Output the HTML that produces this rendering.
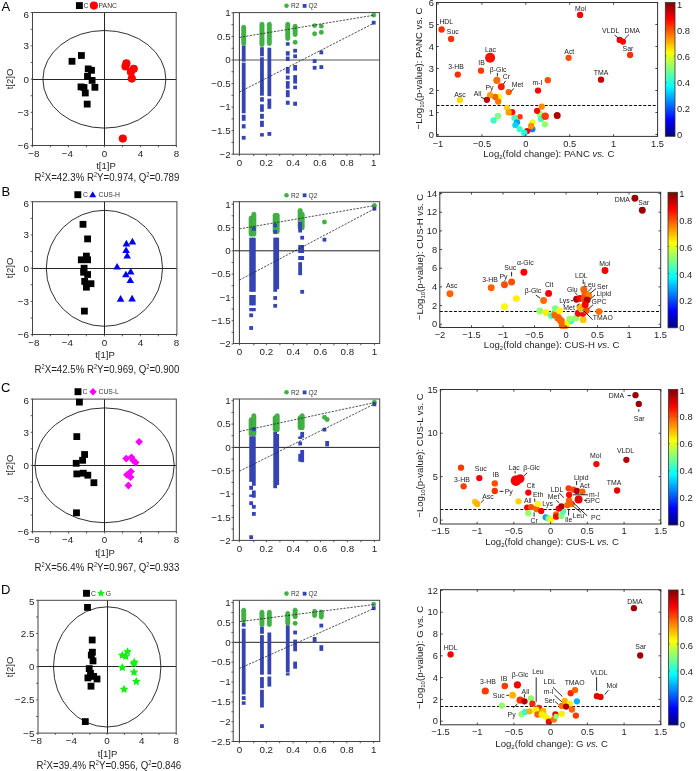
<!DOCTYPE html><html><head><meta charset="utf-8"><style>html,body{margin:0;padding:0;background:#fff;}svg{display:block;will-change:transform;}</style></head><body>
<svg width="696" height="771" viewBox="0 0 696 771" font-family='"Liberation Sans", sans-serif'>
<rect x="0" y="0" width="696" height="771" fill="#fff" />
<text x="1.5" y="11.3" font-size="13" text-anchor="start" fill="#000" >A</text>
<text x="1.5" y="195.8" font-size="13" text-anchor="start" fill="#000" >B</text>
<text x="1" y="392.2" font-size="13" text-anchor="start" fill="#000" >C</text>
<text x="1" y="594.2" font-size="13" text-anchor="start" fill="#000" >D</text>
<line x1="104.5" y1="12.5" x2="104.5" y2="145.5" stroke="#262626" stroke-width="1" />
<line x1="32.5" y1="79.5" x2="176.2" y2="79.5" stroke="#262626" stroke-width="1" />
<ellipse cx="104.4" cy="79.3" rx="61.5" ry="48.8" fill="none" stroke="#262626" stroke-width="0.95"/>
<rect x="32.5" y="12.5" width="143.7" height="133" fill="none" stroke="#444" stroke-width="1"/>
<line x1="30.7" y1="12.62" x2="32.5" y2="12.62" stroke="#444" stroke-width="0.9" />
<line x1="30.7" y1="29.24" x2="32.5" y2="29.24" stroke="#444" stroke-width="0.9" />
<line x1="30.7" y1="45.86" x2="32.5" y2="45.86" stroke="#444" stroke-width="0.9" />
<line x1="30.7" y1="62.48" x2="32.5" y2="62.48" stroke="#444" stroke-width="0.9" />
<line x1="30.7" y1="79.1" x2="32.5" y2="79.1" stroke="#444" stroke-width="0.9" />
<line x1="30.7" y1="95.72" x2="32.5" y2="95.72" stroke="#444" stroke-width="0.9" />
<line x1="30.7" y1="112.34" x2="32.5" y2="112.34" stroke="#444" stroke-width="0.9" />
<line x1="30.7" y1="128.96" x2="32.5" y2="128.96" stroke="#444" stroke-width="0.9" />
<line x1="30.7" y1="145.58" x2="32.5" y2="145.58" stroke="#444" stroke-width="0.9" />
<text x="28.9" y="17.52" font-size="9.8" text-anchor="end" fill="#1e1e1e" >6</text>
<text x="28.9" y="49.26" font-size="9.8" text-anchor="end" fill="#1e1e1e" >3</text>
<text x="28.9" y="82.5" font-size="9.8" text-anchor="end" fill="#1e1e1e" >0</text>
<text x="28.9" y="115.74" font-size="9.8" text-anchor="end" fill="#1e1e1e" >−3</text>
<text x="28.9" y="148.98" font-size="9.8" text-anchor="end" fill="#1e1e1e" >−6</text>
<line x1="32.4" y1="145.5" x2="32.4" y2="147.3" stroke="#444" stroke-width="0.9" />
<line x1="50.4" y1="145.5" x2="50.4" y2="147.3" stroke="#444" stroke-width="0.9" />
<line x1="68.4" y1="145.5" x2="68.4" y2="147.3" stroke="#444" stroke-width="0.9" />
<line x1="86.4" y1="145.5" x2="86.4" y2="147.3" stroke="#444" stroke-width="0.9" />
<line x1="104.4" y1="145.5" x2="104.4" y2="147.3" stroke="#444" stroke-width="0.9" />
<line x1="122.4" y1="145.5" x2="122.4" y2="147.3" stroke="#444" stroke-width="0.9" />
<line x1="140.4" y1="145.5" x2="140.4" y2="147.3" stroke="#444" stroke-width="0.9" />
<line x1="158.4" y1="145.5" x2="158.4" y2="147.3" stroke="#444" stroke-width="0.9" />
<line x1="176.4" y1="145.5" x2="176.4" y2="147.3" stroke="#444" stroke-width="0.9" />
<text x="33.9" y="156.8" font-size="9.8" text-anchor="middle" fill="#1e1e1e" >−8</text>
<text x="67.3" y="156.8" font-size="9.8" text-anchor="middle" fill="#1e1e1e" >−4</text>
<text x="104.4" y="156.8" font-size="9.8" text-anchor="middle" fill="#1e1e1e" >0</text>
<text x="140.4" y="156.8" font-size="9.8" text-anchor="middle" fill="#1e1e1e" >4</text>
<text x="176.4" y="156.8" font-size="9.8" text-anchor="middle" fill="#1e1e1e" >8</text>
<rect x="78" y="52.1" width="6.8" height="6.8" fill="#000" />
<rect x="68.6" y="57.9" width="6.8" height="6.8" fill="#000" />
<rect x="84.8" y="65.5" width="6.8" height="6.8" fill="#000" />
<rect x="88.1" y="66.9" width="6.8" height="6.8" fill="#000" />
<rect x="84.1" y="73" width="6.8" height="6.8" fill="#000" />
<rect x="88.7" y="77" width="6.8" height="6.8" fill="#000" />
<rect x="91.5" y="83.9" width="6.8" height="6.8" fill="#000" />
<rect x="77.6" y="83.5" width="6.8" height="6.8" fill="#000" />
<rect x="80.6" y="84.1" width="6.8" height="6.8" fill="#000" />
<rect x="81.9" y="89.6" width="6.8" height="6.8" fill="#000" />
<rect x="83.8" y="100.7" width="6.8" height="6.8" fill="#000" />
<circle cx="126.4" cy="63.3" r="4.1" fill="#ff0000" />
<circle cx="125.5" cy="66.4" r="4.1" fill="#ff0000" />
<circle cx="133.8" cy="68.8" r="4.1" fill="#ff0000" />
<circle cx="130.9" cy="71.9" r="4.1" fill="#ff0000" />
<circle cx="131.8" cy="78.6" r="4.1" fill="#ff0000" />
<circle cx="122.8" cy="138.6" r="4.1" fill="#ff0000" />
<rect x="75.95" y="2.15" width="6.9" height="6.9" fill="#000" />
<text x="83.6" y="8.1" font-size="6.8" text-anchor="start" fill="#333" >C</text>
<circle cx="93.9" cy="5.6" r="4.1" fill="#ff0000" />
<text x="98.6" y="8.1" font-size="6.8" text-anchor="start" fill="#333" >PANC</text>
<text x="106" y="169" font-size="9.5" text-anchor="middle" fill="#1e1e1e" >t[1]P</text>
<text x="0" y="0" font-size="9.5" text-anchor="middle" fill="#1e1e1e" transform="translate(12.6,79) rotate(-90)">t[2]O</text>
<text x="0" y="0" transform="translate(34.6,180.6) scale(1,1.13)" font-size="9.7" fill="#1e1e1e">R<tspan font-size="5.6" dy="-3.6">2</tspan><tspan dy="3.6">X=42.3% R</tspan><tspan font-size="5.6" dy="-3.6">2</tspan><tspan dy="3.6">Y=0.974, Q</tspan><tspan font-size="5.6" dy="-3.6">2</tspan><tspan dy="3.6">=0.789</tspan></text>
<line x1="104.5" y1="201.7" x2="104.5" y2="334.5" stroke="#262626" stroke-width="1" />
<line x1="32.5" y1="268.5" x2="176.9" y2="268.5" stroke="#262626" stroke-width="1" />
<ellipse cx="104.4" cy="268.3" rx="58.1" ry="58" fill="none" stroke="#262626" stroke-width="0.95"/>
<rect x="32.5" y="201.7" width="144.4" height="132.8" fill="none" stroke="#444" stroke-width="1"/>
<line x1="30.7" y1="201.78" x2="32.5" y2="201.78" stroke="#444" stroke-width="0.9" />
<line x1="30.7" y1="218.38" x2="32.5" y2="218.38" stroke="#444" stroke-width="0.9" />
<line x1="30.7" y1="234.99" x2="32.5" y2="234.99" stroke="#444" stroke-width="0.9" />
<line x1="30.7" y1="251.59" x2="32.5" y2="251.59" stroke="#444" stroke-width="0.9" />
<line x1="30.7" y1="268.2" x2="32.5" y2="268.2" stroke="#444" stroke-width="0.9" />
<line x1="30.7" y1="284.81" x2="32.5" y2="284.81" stroke="#444" stroke-width="0.9" />
<line x1="30.7" y1="301.41" x2="32.5" y2="301.41" stroke="#444" stroke-width="0.9" />
<line x1="30.7" y1="318.01" x2="32.5" y2="318.01" stroke="#444" stroke-width="0.9" />
<line x1="30.7" y1="334.62" x2="32.5" y2="334.62" stroke="#444" stroke-width="0.9" />
<text x="28.9" y="206.68" font-size="9.8" text-anchor="end" fill="#1e1e1e" >6</text>
<text x="28.9" y="238.39" font-size="9.8" text-anchor="end" fill="#1e1e1e" >3</text>
<text x="28.9" y="271.6" font-size="9.8" text-anchor="end" fill="#1e1e1e" >0</text>
<text x="28.9" y="304.81" font-size="9.8" text-anchor="end" fill="#1e1e1e" >−3</text>
<text x="28.9" y="338.02" font-size="9.8" text-anchor="end" fill="#1e1e1e" >−6</text>
<line x1="32.4" y1="334.5" x2="32.4" y2="336.3" stroke="#444" stroke-width="0.9" />
<line x1="50.4" y1="334.5" x2="50.4" y2="336.3" stroke="#444" stroke-width="0.9" />
<line x1="68.4" y1="334.5" x2="68.4" y2="336.3" stroke="#444" stroke-width="0.9" />
<line x1="86.4" y1="334.5" x2="86.4" y2="336.3" stroke="#444" stroke-width="0.9" />
<line x1="104.4" y1="334.5" x2="104.4" y2="336.3" stroke="#444" stroke-width="0.9" />
<line x1="122.4" y1="334.5" x2="122.4" y2="336.3" stroke="#444" stroke-width="0.9" />
<line x1="140.4" y1="334.5" x2="140.4" y2="336.3" stroke="#444" stroke-width="0.9" />
<line x1="158.4" y1="334.5" x2="158.4" y2="336.3" stroke="#444" stroke-width="0.9" />
<line x1="176.4" y1="334.5" x2="176.4" y2="336.3" stroke="#444" stroke-width="0.9" />
<text x="33.9" y="345.8" font-size="9.8" text-anchor="middle" fill="#1e1e1e" >−8</text>
<text x="67.3" y="345.8" font-size="9.8" text-anchor="middle" fill="#1e1e1e" >−4</text>
<text x="104.4" y="345.8" font-size="9.8" text-anchor="middle" fill="#1e1e1e" >0</text>
<text x="140.4" y="345.8" font-size="9.8" text-anchor="middle" fill="#1e1e1e" >4</text>
<text x="176.4" y="345.8" font-size="9.8" text-anchor="middle" fill="#1e1e1e" >8</text>
<rect x="79.6" y="220.9" width="6.8" height="6.8" fill="#000" />
<rect x="84.2" y="235.5" width="6.8" height="6.8" fill="#000" />
<rect x="83" y="252.7" width="6.8" height="6.8" fill="#000" />
<rect x="77.9" y="256.4" width="6.8" height="6.8" fill="#000" />
<rect x="84.2" y="256.4" width="6.8" height="6.8" fill="#000" />
<rect x="80.7" y="264.8" width="6.8" height="6.8" fill="#000" />
<rect x="80.2" y="268.8" width="6.8" height="6.8" fill="#000" />
<rect x="84.2" y="271.1" width="6.8" height="6.8" fill="#000" />
<rect x="81.3" y="278" width="6.8" height="6.8" fill="#000" />
<rect x="87.6" y="280.3" width="6.8" height="6.8" fill="#000" />
<rect x="83" y="283.8" width="6.8" height="6.8" fill="#000" />
<rect x="81" y="307.7" width="6.8" height="6.8" fill="#000" />
<polygon points="128.6,244.41 136.2,244.41 132.4,237.79" fill="#0000ff"/>
<polygon points="122.6,246.41 130.2,246.41 126.4,239.79" fill="#0000ff"/>
<polygon points="122.3,253.11 129.9,253.11 126.1,246.49" fill="#0000ff"/>
<polygon points="123.4,258.51 131,258.51 127.2,251.89" fill="#0000ff"/>
<polygon points="113.3,269.61 120.9,269.61 117.1,262.99" fill="#0000ff"/>
<polygon points="126.9,274.41 134.5,274.41 130.7,267.79" fill="#0000ff"/>
<polygon points="122.1,277.31 129.7,277.31 125.9,270.69" fill="#0000ff"/>
<polygon points="126.5,283.01 134.1,283.01 130.3,276.39" fill="#0000ff"/>
<polygon points="116.8,301.71 124.4,301.71 120.6,295.09" fill="#0000ff"/>
<polygon points="128.3,301.41 135.9,301.41 132.1,294.79" fill="#0000ff"/>
<rect x="74.35" y="191.25" width="6.9" height="6.9" fill="#000" />
<text x="83" y="197.3" font-size="6.8" text-anchor="start" fill="#333" >C</text>
<polygon points="89.2,197.24 96.2,197.24 92.7,191.16" fill="#0000ff"/>
<text x="98.5" y="197.3" font-size="6.8" text-anchor="start" fill="#333" >CUS-H</text>
<text x="105" y="358" font-size="9.5" text-anchor="middle" fill="#1e1e1e" >t[1]P</text>
<text x="0" y="0" font-size="9.5" text-anchor="middle" fill="#1e1e1e" transform="translate(12.6,268) rotate(-90)">t[2]O</text>
<text x="0" y="0" transform="translate(34.6,373) scale(1,1.13)" font-size="9.7" fill="#1e1e1e">R<tspan font-size="5.6" dy="-3.6">2</tspan><tspan dy="3.6">X=42.5% R</tspan><tspan font-size="5.6" dy="-3.6">2</tspan><tspan dy="3.6">Y=0.969, Q</tspan><tspan font-size="5.6" dy="-3.6">2</tspan><tspan dy="3.6">=0.900</tspan></text>
<line x1="104.5" y1="399.1" x2="104.5" y2="531.7" stroke="#262626" stroke-width="1" />
<line x1="32.5" y1="465.5" x2="176.3" y2="465.5" stroke="#262626" stroke-width="1" />
<ellipse cx="104.6" cy="465.3" rx="69.6" ry="57.4" fill="none" stroke="#262626" stroke-width="0.95"/>
<rect x="32.5" y="399.1" width="143.8" height="132.6" fill="none" stroke="#444" stroke-width="1"/>
<line x1="30.7" y1="399.1" x2="32.5" y2="399.1" stroke="#444" stroke-width="0.9" />
<line x1="30.7" y1="415.67" x2="32.5" y2="415.67" stroke="#444" stroke-width="0.9" />
<line x1="30.7" y1="432.25" x2="32.5" y2="432.25" stroke="#444" stroke-width="0.9" />
<line x1="30.7" y1="448.82" x2="32.5" y2="448.82" stroke="#444" stroke-width="0.9" />
<line x1="30.7" y1="465.4" x2="32.5" y2="465.4" stroke="#444" stroke-width="0.9" />
<line x1="30.7" y1="481.97" x2="32.5" y2="481.97" stroke="#444" stroke-width="0.9" />
<line x1="30.7" y1="498.55" x2="32.5" y2="498.55" stroke="#444" stroke-width="0.9" />
<line x1="30.7" y1="515.12" x2="32.5" y2="515.12" stroke="#444" stroke-width="0.9" />
<line x1="30.7" y1="531.7" x2="32.5" y2="531.7" stroke="#444" stroke-width="0.9" />
<text x="28.9" y="404" font-size="9.8" text-anchor="end" fill="#1e1e1e" >6</text>
<text x="28.9" y="435.65" font-size="9.8" text-anchor="end" fill="#1e1e1e" >3</text>
<text x="28.9" y="468.8" font-size="9.8" text-anchor="end" fill="#1e1e1e" >0</text>
<text x="28.9" y="501.95" font-size="9.8" text-anchor="end" fill="#1e1e1e" >−3</text>
<text x="28.9" y="535.1" font-size="9.8" text-anchor="end" fill="#1e1e1e" >−6</text>
<line x1="32.6" y1="531.7" x2="32.6" y2="533.5" stroke="#444" stroke-width="0.9" />
<line x1="50.6" y1="531.7" x2="50.6" y2="533.5" stroke="#444" stroke-width="0.9" />
<line x1="68.6" y1="531.7" x2="68.6" y2="533.5" stroke="#444" stroke-width="0.9" />
<line x1="86.6" y1="531.7" x2="86.6" y2="533.5" stroke="#444" stroke-width="0.9" />
<line x1="104.6" y1="531.7" x2="104.6" y2="533.5" stroke="#444" stroke-width="0.9" />
<line x1="122.6" y1="531.7" x2="122.6" y2="533.5" stroke="#444" stroke-width="0.9" />
<line x1="140.6" y1="531.7" x2="140.6" y2="533.5" stroke="#444" stroke-width="0.9" />
<line x1="158.6" y1="531.7" x2="158.6" y2="533.5" stroke="#444" stroke-width="0.9" />
<line x1="176.6" y1="531.7" x2="176.6" y2="533.5" stroke="#444" stroke-width="0.9" />
<text x="34.1" y="543" font-size="9.8" text-anchor="middle" fill="#1e1e1e" >−8</text>
<text x="67.5" y="543" font-size="9.8" text-anchor="middle" fill="#1e1e1e" >−4</text>
<text x="104.6" y="543" font-size="9.8" text-anchor="middle" fill="#1e1e1e" >0</text>
<text x="140.6" y="543" font-size="9.8" text-anchor="middle" fill="#1e1e1e" >4</text>
<text x="176.6" y="543" font-size="9.8" text-anchor="middle" fill="#1e1e1e" >8</text>
<rect x="76" y="398.7" width="6.8" height="6.8" fill="#000" />
<rect x="73.4" y="433.2" width="6.8" height="6.8" fill="#000" />
<rect x="81.2" y="451.1" width="6.8" height="6.8" fill="#000" />
<rect x="79.2" y="456.9" width="6.8" height="6.8" fill="#000" />
<rect x="72.8" y="459.9" width="6.8" height="6.8" fill="#000" />
<rect x="73.4" y="470.5" width="6.8" height="6.8" fill="#000" />
<rect x="79.9" y="469.8" width="6.8" height="6.8" fill="#000" />
<rect x="84.4" y="471.8" width="6.8" height="6.8" fill="#000" />
<rect x="90.5" y="479.3" width="6.8" height="6.8" fill="#000" />
<rect x="73.1" y="509.4" width="6.8" height="6.8" fill="#000" />
<polygon points="139.1,437.9 143,441.8 139.1,445.7 135.2,441.8" fill="#ff00ff"/>
<polygon points="126.2,454.7 130.1,458.6 126.2,462.5 122.3,458.6" fill="#ff00ff"/>
<polygon points="131.5,453.4 135.4,457.3 131.5,461.2 127.6,457.3" fill="#ff00ff"/>
<polygon points="133.1,456.4 137,460.3 133.1,464.2 129.2,460.3" fill="#ff00ff"/>
<polygon points="135.6,458.6 139.5,462.5 135.6,466.4 131.7,462.5" fill="#ff00ff"/>
<polygon points="130.9,467.7 134.8,471.6 130.9,475.5 127,471.6" fill="#ff00ff"/>
<polygon points="127,470.9 130.9,474.8 127,478.7 123.1,474.8" fill="#ff00ff"/>
<polygon points="130.5,473.2 134.4,477.1 130.5,481 126.6,477.1" fill="#ff00ff"/>
<polygon points="128.4,481.6 132.3,485.5 128.4,489.4 124.5,485.5" fill="#ff00ff"/>
<rect x="74.55" y="388.25" width="6.9" height="6.9" fill="#000" />
<text x="82.5" y="394.3" font-size="6.8" text-anchor="start" fill="#333" >C</text>
<polygon points="93,388 96.7,391.7 93,395.4 89.3,391.7" fill="#ff00ff"/>
<text x="98.5" y="394.3" font-size="6.8" text-anchor="start" fill="#333" >CUS-L</text>
<text x="105" y="556" font-size="9.5" text-anchor="middle" fill="#1e1e1e" >t[1]P</text>
<text x="0" y="0" font-size="9.5" text-anchor="middle" fill="#1e1e1e" transform="translate(12.6,465) rotate(-90)">t[2]O</text>
<text x="0" y="0" transform="translate(34.6,571) scale(1,1.13)" font-size="9.7" fill="#1e1e1e">R<tspan font-size="5.6" dy="-3.6">2</tspan><tspan dy="3.6">X=56.4% R</tspan><tspan font-size="5.6" dy="-3.6">2</tspan><tspan dy="3.6">Y=0.967, Q</tspan><tspan font-size="5.6" dy="-3.6">2</tspan><tspan dy="3.6">=0.933</tspan></text>
<line x1="107.5" y1="600.3" x2="107.5" y2="733.1" stroke="#262626" stroke-width="1" />
<line x1="38" y1="666.5" x2="176.2" y2="666.5" stroke="#262626" stroke-width="1" />
<ellipse cx="107.2" cy="666.9" rx="53.7" ry="60.1" fill="none" stroke="#262626" stroke-width="0.95"/>
<rect x="38" y="600.3" width="138.2" height="132.8" fill="none" stroke="#444" stroke-width="1"/>
<line x1="36.2" y1="600.3" x2="38" y2="600.3" stroke="#444" stroke-width="0.9" />
<line x1="36.2" y1="616.9" x2="38" y2="616.9" stroke="#444" stroke-width="0.9" />
<line x1="36.2" y1="633.5" x2="38" y2="633.5" stroke="#444" stroke-width="0.9" />
<line x1="36.2" y1="650.1" x2="38" y2="650.1" stroke="#444" stroke-width="0.9" />
<line x1="36.2" y1="666.7" x2="38" y2="666.7" stroke="#444" stroke-width="0.9" />
<line x1="36.2" y1="683.3" x2="38" y2="683.3" stroke="#444" stroke-width="0.9" />
<line x1="36.2" y1="699.9" x2="38" y2="699.9" stroke="#444" stroke-width="0.9" />
<line x1="36.2" y1="716.5" x2="38" y2="716.5" stroke="#444" stroke-width="0.9" />
<line x1="36.2" y1="733.1" x2="38" y2="733.1" stroke="#444" stroke-width="0.9" />
<text x="34.4" y="605.2" font-size="9.8" text-anchor="end" fill="#1e1e1e" >5</text>
<text x="34.4" y="636.9" font-size="9.8" text-anchor="end" fill="#1e1e1e" >2.5</text>
<text x="34.4" y="670.1" font-size="9.8" text-anchor="end" fill="#1e1e1e" >0</text>
<text x="34.4" y="703.3" font-size="9.8" text-anchor="end" fill="#1e1e1e" >−2.5</text>
<text x="34.4" y="736.5" font-size="9.8" text-anchor="end" fill="#1e1e1e" >−5</text>
<line x1="37.98" y1="733.1" x2="37.98" y2="734.9" stroke="#444" stroke-width="0.9" />
<line x1="55.26" y1="733.1" x2="55.26" y2="734.9" stroke="#444" stroke-width="0.9" />
<line x1="72.54" y1="733.1" x2="72.54" y2="734.9" stroke="#444" stroke-width="0.9" />
<line x1="89.82" y1="733.1" x2="89.82" y2="734.9" stroke="#444" stroke-width="0.9" />
<line x1="107.1" y1="733.1" x2="107.1" y2="734.9" stroke="#444" stroke-width="0.9" />
<line x1="124.38" y1="733.1" x2="124.38" y2="734.9" stroke="#444" stroke-width="0.9" />
<line x1="141.66" y1="733.1" x2="141.66" y2="734.9" stroke="#444" stroke-width="0.9" />
<line x1="158.94" y1="733.1" x2="158.94" y2="734.9" stroke="#444" stroke-width="0.9" />
<line x1="176.22" y1="733.1" x2="176.22" y2="734.9" stroke="#444" stroke-width="0.9" />
<text x="36.38" y="744.4" font-size="9.8" text-anchor="middle" fill="#1e1e1e" >−8</text>
<text x="71.44" y="744.4" font-size="9.8" text-anchor="middle" fill="#1e1e1e" >−4</text>
<text x="107.1" y="744.4" font-size="9.8" text-anchor="middle" fill="#1e1e1e" >0</text>
<text x="141.66" y="744.4" font-size="9.8" text-anchor="middle" fill="#1e1e1e" >4</text>
<text x="176.22" y="744.4" font-size="9.8" text-anchor="middle" fill="#1e1e1e" >8</text>
<rect x="84.1" y="604" width="6.8" height="6.8" fill="#000" />
<rect x="88.8" y="636.6" width="6.8" height="6.8" fill="#000" />
<rect x="89" y="648.8" width="6.8" height="6.8" fill="#000" />
<rect x="87.9" y="651.7" width="6.8" height="6.8" fill="#000" />
<rect x="89.6" y="657.5" width="6.8" height="6.8" fill="#000" />
<rect x="85.8" y="665.2" width="6.8" height="6.8" fill="#000" />
<rect x="87.1" y="669.9" width="6.8" height="6.8" fill="#000" />
<rect x="84.5" y="674.5" width="6.8" height="6.8" fill="#000" />
<rect x="90.2" y="673" width="6.8" height="6.8" fill="#000" />
<rect x="93.6" y="675.6" width="6.8" height="6.8" fill="#000" />
<rect x="87.6" y="682.8" width="6.8" height="6.8" fill="#000" />
<rect x="81.9" y="718.2" width="6.8" height="6.8" fill="#000" />
<polygon points="127.5,647.2 128.82,649.88 131.78,650.31 129.64,652.4 130.15,655.34 127.5,653.95 124.85,655.34 125.36,652.4 123.22,650.31 126.18,649.88" fill="#14f014"/>
<polygon points="122.3,650.8 123.62,653.48 126.58,653.91 124.44,656 124.95,658.94 122.3,657.55 119.65,658.94 120.16,656 118.02,653.91 120.98,653.48" fill="#14f014"/>
<polygon points="125.7,651.8 127.02,654.48 129.98,654.91 127.84,657 128.35,659.94 125.7,658.55 123.05,659.94 123.56,657 121.42,654.91 124.38,654.48" fill="#14f014"/>
<polygon points="134.4,657.7 135.72,660.38 138.68,660.81 136.54,662.9 137.05,665.84 134.4,664.45 131.75,665.84 132.26,662.9 130.12,660.81 133.08,660.38" fill="#14f014"/>
<polygon points="133.7,659.3 135.02,661.98 137.98,662.41 135.84,664.5 136.35,667.44 133.7,666.05 131.05,667.44 131.56,664.5 129.42,662.41 132.38,661.98" fill="#14f014"/>
<polygon points="122.3,663.1 123.62,665.78 126.58,666.21 124.44,668.3 124.95,671.24 122.3,669.85 119.65,671.24 120.16,668.3 118.02,666.21 120.98,665.78" fill="#14f014"/>
<polygon points="134,667.7 135.32,670.38 138.28,670.81 136.14,672.9 136.65,675.84 134,674.45 131.35,675.84 131.86,672.9 129.72,670.81 132.68,670.38" fill="#14f014"/>
<polygon points="136.3,677 137.62,679.68 140.58,680.11 138.44,682.2 138.95,685.14 136.3,683.75 133.65,685.14 134.16,682.2 132.02,680.11 134.98,679.68" fill="#14f014"/>
<polygon points="124.1,684.8 125.42,687.48 128.38,687.91 126.24,690 126.75,692.94 124.1,691.55 121.45,692.94 121.96,690 119.82,687.91 122.78,687.48" fill="#14f014"/>
<rect x="83.05" y="589.85" width="6.9" height="6.9" fill="#000" />
<text x="91" y="595.9" font-size="6.8" text-anchor="start" fill="#333" >C</text>
<polygon points="101,589.3 102.18,591.68 104.8,592.06 102.9,593.92 103.35,596.54 101,595.3 98.65,596.54 99.1,593.92 97.2,592.06 99.82,591.68" fill="#14f014"/>
<text x="105.8" y="595.9" font-size="6.8" text-anchor="start" fill="#333" >G</text>
<text x="107.6" y="756.8" font-size="9.5" text-anchor="middle" fill="#1e1e1e" >t[1]P</text>
<text x="0" y="0" font-size="9.5" text-anchor="middle" fill="#1e1e1e" transform="translate(12.6,667) rotate(-90)">t[2]O</text>
<text x="0" y="0" transform="translate(36.5,769) scale(1,1.13)" font-size="9.7" fill="#1e1e1e">R<tspan font-size="5.6" dy="-3.6">2</tspan><tspan dy="3.6">X=39.4% R</tspan><tspan font-size="5.6" dy="-3.6">2</tspan><tspan dy="3.6">Y=0.956, Q</tspan><tspan font-size="5.6" dy="-3.6">2</tspan><tspan dy="3.6">=0.846</tspan></text>
<line x1="233.3" y1="60" x2="379.6" y2="60" stroke="#555" stroke-width="1.1" />
<line x1="239.4" y1="12.6" x2="239.4" y2="154.2" stroke="#333" stroke-width="1" />
<rect x="241.45" y="24.9" width="4.5" height="20.8" rx="2.25" ry="2.25" fill="#40b244" stroke="#349a38" stroke-width="0.35"/>
<rect x="259.71" y="21.9" width="4.5" height="24.8" rx="2.25" ry="2.25" fill="#40b244" stroke="#349a38" stroke-width="0.35"/>
<rect x="267.1" y="22" width="4.5" height="23.7" rx="2.25" ry="2.25" fill="#40b244" stroke="#349a38" stroke-width="0.35"/>
<rect x="285.5" y="22" width="4.5" height="18.7" rx="2.25" ry="2.25" fill="#40b244" stroke="#349a38" stroke-width="0.35"/>
<rect x="292.88" y="24.1" width="4.5" height="12.6" rx="2.25" ry="2.25" fill="#40b244" stroke="#349a38" stroke-width="0.35"/>
<rect x="292.88" y="40" width="4.5" height="4.4" rx="2.25" ry="2.25" fill="#40b244" stroke="#349a38" stroke-width="0.35"/>
<rect x="312.36" y="23.4" width="4.5" height="4.4" rx="2.25" ry="2.25" fill="#40b244" stroke="#349a38" stroke-width="0.35"/>
<rect x="312.36" y="31.6" width="4.5" height="4.4" rx="2.25" ry="2.25" fill="#40b244" stroke="#349a38" stroke-width="0.35"/>
<rect x="319.07" y="23.9" width="4.5" height="4.4" rx="2.25" ry="2.25" fill="#40b244" stroke="#349a38" stroke-width="0.35"/>
<rect x="319.07" y="30.1" width="4.5" height="4.4" rx="2.25" ry="2.25" fill="#40b244" stroke="#349a38" stroke-width="0.35"/>
<rect x="371.45" y="12.9" width="4.5" height="4.4" rx="2.25" ry="2.25" fill="#40b244" stroke="#349a38" stroke-width="0.35"/>
<rect x="241.8" y="45.7" width="3.8" height="15.9" fill="#3444b4"/>
<rect x="241.8" y="62.6" width="3.8" height="50.7" fill="#3444b4"/>
<rect x="241.8" y="114.8" width="3.8" height="6" fill="#3444b4"/>
<rect x="241.8" y="124.2" width="3.8" height="4.2" fill="#3444b4"/>
<rect x="241.8" y="135.9" width="3.8" height="3.8" fill="#3444b4"/>
<rect x="260.06" y="47.2" width="3.8" height="9.1" fill="#3444b4"/>
<rect x="260.06" y="57.3" width="3.8" height="38.4" fill="#3444b4"/>
<rect x="260.06" y="97.2" width="3.8" height="4.5" fill="#3444b4"/>
<rect x="260.06" y="104.3" width="3.8" height="7.5" fill="#3444b4"/>
<rect x="260.06" y="113.8" width="3.8" height="5" fill="#3444b4"/>
<rect x="260.06" y="120.8" width="3.8" height="6.1" fill="#3444b4"/>
<rect x="260.06" y="133.1" width="3.8" height="3.4" fill="#3444b4"/>
<rect x="267.45" y="47.7" width="3.8" height="48.5" fill="#3444b4"/>
<rect x="267.45" y="98.7" width="3.8" height="10.1" fill="#3444b4"/>
<rect x="267.45" y="132" width="3.8" height="3.8" fill="#3444b4"/>
<rect x="285.85" y="42.2" width="3.8" height="3.5" fill="#3444b4"/>
<rect x="285.85" y="51.2" width="3.8" height="4.4" fill="#3444b4"/>
<rect x="285.85" y="56.6" width="3.8" height="4.4" fill="#3444b4"/>
<rect x="285.85" y="67" width="3.8" height="6.6" fill="#3444b4"/>
<rect x="285.85" y="75.6" width="3.8" height="4" fill="#3444b4"/>
<rect x="285.85" y="81.1" width="3.8" height="7.6" fill="#3444b4"/>
<rect x="285.85" y="90.2" width="3.8" height="7" fill="#3444b4"/>
<rect x="285.85" y="100.7" width="3.8" height="4.1" fill="#3444b4"/>
<rect x="293.23" y="48.8" width="3.8" height="3.8" fill="#3444b4"/>
<rect x="293.23" y="54.4" width="3.8" height="3.8" fill="#3444b4"/>
<rect x="293.23" y="65" width="3.8" height="5.6" fill="#3444b4"/>
<rect x="293.23" y="75.1" width="3.8" height="8.5" fill="#3444b4"/>
<rect x="293.23" y="85.6" width="3.8" height="3.6" fill="#3444b4"/>
<rect x="293.23" y="101.7" width="3.8" height="4.1" fill="#3444b4"/>
<rect x="312.71" y="59.2" width="3.8" height="3.8" fill="#3444b4"/>
<rect x="312.71" y="65.9" width="3.8" height="3.8" fill="#3444b4"/>
<rect x="319.42" y="50.5" width="3.8" height="3.8" fill="#3444b4"/>
<rect x="319.42" y="65.2" width="3.8" height="3.8" fill="#3444b4"/>
<rect x="371.8" y="20.8" width="3.8" height="3.8" fill="#3444b4"/>
<line x1="239.4" y1="37.39" x2="373.7" y2="15.26" stroke="#222" stroke-width="0.8" stroke-dasharray="2.2,1.3"/>
<line x1="239.4" y1="92.03" x2="373.7" y2="23.26" stroke="#222" stroke-width="0.8" stroke-dasharray="2.2,1.3"/>
<rect x="233.3" y="12.6" width="146.3" height="141.6" fill="none" stroke="#444" stroke-width="1"/>
<line x1="231.5" y1="154.2" x2="233.3" y2="154.2" stroke="#444" stroke-width="0.9" />
<line x1="231.5" y1="142.43" x2="233.3" y2="142.43" stroke="#444" stroke-width="0.9" />
<line x1="231.5" y1="130.65" x2="233.3" y2="130.65" stroke="#444" stroke-width="0.9" />
<line x1="231.5" y1="118.88" x2="233.3" y2="118.88" stroke="#444" stroke-width="0.9" />
<line x1="231.5" y1="107.1" x2="233.3" y2="107.1" stroke="#444" stroke-width="0.9" />
<line x1="231.5" y1="95.33" x2="233.3" y2="95.33" stroke="#444" stroke-width="0.9" />
<line x1="231.5" y1="83.55" x2="233.3" y2="83.55" stroke="#444" stroke-width="0.9" />
<line x1="231.5" y1="71.78" x2="233.3" y2="71.78" stroke="#444" stroke-width="0.9" />
<line x1="231.5" y1="60" x2="233.3" y2="60" stroke="#444" stroke-width="0.9" />
<line x1="231.5" y1="48.23" x2="233.3" y2="48.23" stroke="#444" stroke-width="0.9" />
<line x1="231.5" y1="36.45" x2="233.3" y2="36.45" stroke="#444" stroke-width="0.9" />
<line x1="231.5" y1="24.67" x2="233.3" y2="24.67" stroke="#444" stroke-width="0.9" />
<line x1="231.5" y1="12.9" x2="233.3" y2="12.9" stroke="#444" stroke-width="0.9" />
<text x="230.7" y="16.2" font-size="9.8" text-anchor="end" fill="#1e1e1e" >1</text>
<text x="230.7" y="39.75" font-size="9.8" text-anchor="end" fill="#1e1e1e" >0.5</text>
<text x="230.7" y="63.3" font-size="9.8" text-anchor="end" fill="#1e1e1e" >0</text>
<text x="230.7" y="86.85" font-size="9.8" text-anchor="end" fill="#1e1e1e" >−0.5</text>
<text x="230.7" y="110.4" font-size="9.8" text-anchor="end" fill="#1e1e1e" >−1</text>
<text x="230.7" y="133.95" font-size="9.8" text-anchor="end" fill="#1e1e1e" >−1.5</text>
<text x="230.7" y="157.5" font-size="9.8" text-anchor="end" fill="#1e1e1e" >−2</text>
<line x1="239.4" y1="154.2" x2="239.4" y2="156" stroke="#444" stroke-width="0.9" />
<line x1="253.77" y1="154.2" x2="253.77" y2="156" stroke="#444" stroke-width="0.9" />
<line x1="266.26" y1="154.2" x2="266.26" y2="156" stroke="#444" stroke-width="0.9" />
<line x1="279.69" y1="154.2" x2="279.69" y2="156" stroke="#444" stroke-width="0.9" />
<line x1="293.12" y1="154.2" x2="293.12" y2="156" stroke="#444" stroke-width="0.9" />
<line x1="306.55" y1="154.2" x2="306.55" y2="156" stroke="#444" stroke-width="0.9" />
<line x1="319.98" y1="154.2" x2="319.98" y2="156" stroke="#444" stroke-width="0.9" />
<line x1="333.41" y1="154.2" x2="333.41" y2="156" stroke="#444" stroke-width="0.9" />
<line x1="346.84" y1="154.2" x2="346.84" y2="156" stroke="#444" stroke-width="0.9" />
<line x1="360.27" y1="154.2" x2="360.27" y2="156" stroke="#444" stroke-width="0.9" />
<line x1="373.7" y1="154.2" x2="373.7" y2="156" stroke="#444" stroke-width="0.9" />
<text x="239.4" y="166" font-size="9.8" text-anchor="middle" fill="#1e1e1e" >0</text>
<text x="266.26" y="166" font-size="9.8" text-anchor="middle" fill="#1e1e1e" >0.2</text>
<text x="293.12" y="166" font-size="9.8" text-anchor="middle" fill="#1e1e1e" >0.4</text>
<text x="319.98" y="166" font-size="9.8" text-anchor="middle" fill="#1e1e1e" >0.6</text>
<text x="346.84" y="166" font-size="9.8" text-anchor="middle" fill="#1e1e1e" >0.8</text>
<text x="373.7" y="166" font-size="9.8" text-anchor="middle" fill="#1e1e1e" >1</text>
<circle cx="286.5" cy="5.8" r="2.3" fill="#40b244" />
<text x="291" y="8.2" font-size="6.6" text-anchor="start" fill="#333" >R2</text>
<rect x="302.7" y="4" width="3.8" height="3.8" fill="#3444b4" />
<text x="308.6" y="8.2" font-size="6.6" text-anchor="start" fill="#333" >Q2</text>
<line x1="233.4" y1="250.8" x2="379.7" y2="250.8" stroke="#222" stroke-width="1" />
<line x1="239.4" y1="201.7" x2="239.4" y2="343.5" stroke="#333" stroke-width="1" />
<rect x="248.9" y="215.7" width="4.5" height="20.7" rx="2.25" ry="2.25" fill="#40b244" stroke="#349a38" stroke-width="0.35"/>
<rect x="251.59" y="212" width="4.5" height="24.4" rx="2.25" ry="2.25" fill="#40b244" stroke="#349a38" stroke-width="0.35"/>
<rect x="272.93" y="213.1" width="4.5" height="20.7" rx="2.25" ry="2.25" fill="#40b244" stroke="#349a38" stroke-width="0.35"/>
<rect x="274.95" y="213.1" width="4.5" height="20.7" rx="2.25" ry="2.25" fill="#40b244" stroke="#349a38" stroke-width="0.35"/>
<rect x="297.9" y="208.3" width="4.5" height="21.6" rx="2.25" ry="2.25" fill="#40b244" stroke="#349a38" stroke-width="0.35"/>
<rect x="299.93" y="212" width="4.5" height="17.9" rx="2.25" ry="2.25" fill="#40b244" stroke="#349a38" stroke-width="0.35"/>
<rect x="322.2" y="219.8" width="4.5" height="4.4" rx="2.25" ry="2.25" fill="#40b244" stroke="#349a38" stroke-width="0.35"/>
<rect x="372.15" y="203.3" width="4.5" height="4.4" rx="2.25" ry="2.25" fill="#40b244" stroke="#349a38" stroke-width="0.35"/>
<rect x="251.94" y="227" width="3.8" height="3.8" fill="#3444b4"/>
<rect x="249.25" y="237.7" width="3.8" height="54.1" fill="#3444b4"/>
<rect x="251.94" y="237.7" width="3.8" height="54.1" fill="#3444b4"/>
<rect x="249.25" y="295" width="3.8" height="10.4" fill="#3444b4"/>
<rect x="251.94" y="295" width="3.8" height="10.4" fill="#3444b4"/>
<rect x="249.25" y="308" width="3.8" height="3.2" fill="#3444b4"/>
<rect x="251.94" y="308" width="3.8" height="3.2" fill="#3444b4"/>
<rect x="249.25" y="313.4" width="3.8" height="3.8" fill="#3444b4"/>
<rect x="249.25" y="326.1" width="3.8" height="3.8" fill="#3444b4"/>
<rect x="273.28" y="223.5" width="3.8" height="3.8" fill="#3444b4"/>
<rect x="273.28" y="230" width="3.8" height="3.8" fill="#3444b4"/>
<rect x="273.28" y="237.7" width="3.8" height="54.1" fill="#3444b4"/>
<rect x="275.3" y="237.7" width="3.8" height="51.5" fill="#3444b4"/>
<rect x="273.28" y="296.1" width="3.8" height="3.8" fill="#3444b4"/>
<rect x="273.28" y="303.9" width="3.8" height="3.8" fill="#3444b4"/>
<rect x="298.25" y="222.1" width="3.8" height="10.4" fill="#3444b4"/>
<rect x="300.28" y="235.8" width="3.8" height="3.8" fill="#3444b4"/>
<rect x="298.25" y="245" width="3.8" height="8" fill="#3444b4"/>
<rect x="300.28" y="245" width="3.8" height="8" fill="#3444b4"/>
<rect x="298.25" y="256" width="3.8" height="4" fill="#3444b4"/>
<rect x="300.28" y="256" width="3.8" height="4" fill="#3444b4"/>
<rect x="298.25" y="262.2" width="3.8" height="13" fill="#3444b4"/>
<rect x="300.28" y="289.9" width="3.8" height="3.8" fill="#3444b4"/>
<rect x="322.55" y="237.8" width="3.8" height="3.8" fill="#3444b4"/>
<rect x="372.5" y="206.8" width="3.8" height="3.8" fill="#3444b4"/>
<line x1="239.4" y1="228.9" x2="374.4" y2="205.6" stroke="#222" stroke-width="0.8" stroke-dasharray="2.2,1.3"/>
<line x1="239.4" y1="280.16" x2="374.4" y2="208.86" stroke="#222" stroke-width="0.8" stroke-dasharray="2.2,1.3"/>
<rect x="233.4" y="201.7" width="146.3" height="141.8" fill="none" stroke="#444" stroke-width="1"/>
<line x1="231.6" y1="344" x2="233.4" y2="344" stroke="#444" stroke-width="0.9" />
<line x1="231.6" y1="332.35" x2="233.4" y2="332.35" stroke="#444" stroke-width="0.9" />
<line x1="231.6" y1="320.7" x2="233.4" y2="320.7" stroke="#444" stroke-width="0.9" />
<line x1="231.6" y1="309.05" x2="233.4" y2="309.05" stroke="#444" stroke-width="0.9" />
<line x1="231.6" y1="297.4" x2="233.4" y2="297.4" stroke="#444" stroke-width="0.9" />
<line x1="231.6" y1="285.75" x2="233.4" y2="285.75" stroke="#444" stroke-width="0.9" />
<line x1="231.6" y1="274.1" x2="233.4" y2="274.1" stroke="#444" stroke-width="0.9" />
<line x1="231.6" y1="262.45" x2="233.4" y2="262.45" stroke="#444" stroke-width="0.9" />
<line x1="231.6" y1="250.8" x2="233.4" y2="250.8" stroke="#444" stroke-width="0.9" />
<line x1="231.6" y1="239.15" x2="233.4" y2="239.15" stroke="#444" stroke-width="0.9" />
<line x1="231.6" y1="227.5" x2="233.4" y2="227.5" stroke="#444" stroke-width="0.9" />
<line x1="231.6" y1="215.85" x2="233.4" y2="215.85" stroke="#444" stroke-width="0.9" />
<line x1="231.6" y1="204.2" x2="233.4" y2="204.2" stroke="#444" stroke-width="0.9" />
<text x="230.8" y="207.5" font-size="9.8" text-anchor="end" fill="#1e1e1e" >1</text>
<text x="230.8" y="230.8" font-size="9.8" text-anchor="end" fill="#1e1e1e" >0.5</text>
<text x="230.8" y="254.1" font-size="9.8" text-anchor="end" fill="#1e1e1e" >0</text>
<text x="230.8" y="277.4" font-size="9.8" text-anchor="end" fill="#1e1e1e" >−0.5</text>
<text x="230.8" y="300.7" font-size="9.8" text-anchor="end" fill="#1e1e1e" >−1</text>
<text x="230.8" y="324" font-size="9.8" text-anchor="end" fill="#1e1e1e" >−1.5</text>
<text x="230.8" y="347.3" font-size="9.8" text-anchor="end" fill="#1e1e1e" >−2</text>
<line x1="239.4" y1="343.5" x2="239.4" y2="345.3" stroke="#444" stroke-width="0.9" />
<line x1="253.84" y1="343.5" x2="253.84" y2="345.3" stroke="#444" stroke-width="0.9" />
<line x1="266.4" y1="343.5" x2="266.4" y2="345.3" stroke="#444" stroke-width="0.9" />
<line x1="279.9" y1="343.5" x2="279.9" y2="345.3" stroke="#444" stroke-width="0.9" />
<line x1="293.4" y1="343.5" x2="293.4" y2="345.3" stroke="#444" stroke-width="0.9" />
<line x1="306.9" y1="343.5" x2="306.9" y2="345.3" stroke="#444" stroke-width="0.9" />
<line x1="320.4" y1="343.5" x2="320.4" y2="345.3" stroke="#444" stroke-width="0.9" />
<line x1="333.9" y1="343.5" x2="333.9" y2="345.3" stroke="#444" stroke-width="0.9" />
<line x1="347.4" y1="343.5" x2="347.4" y2="345.3" stroke="#444" stroke-width="0.9" />
<line x1="360.9" y1="343.5" x2="360.9" y2="345.3" stroke="#444" stroke-width="0.9" />
<line x1="374.4" y1="343.5" x2="374.4" y2="345.3" stroke="#444" stroke-width="0.9" />
<text x="239.4" y="355.3" font-size="9.8" text-anchor="middle" fill="#1e1e1e" >0</text>
<text x="266.4" y="355.3" font-size="9.8" text-anchor="middle" fill="#1e1e1e" >0.2</text>
<text x="293.4" y="355.3" font-size="9.8" text-anchor="middle" fill="#1e1e1e" >0.4</text>
<text x="320.4" y="355.3" font-size="9.8" text-anchor="middle" fill="#1e1e1e" >0.6</text>
<text x="347.4" y="355.3" font-size="9.8" text-anchor="middle" fill="#1e1e1e" >0.8</text>
<text x="374.4" y="355.3" font-size="9.8" text-anchor="middle" fill="#1e1e1e" >1</text>
<circle cx="286.5" cy="195.2" r="2.3" fill="#40b244" />
<text x="291" y="197.6" font-size="6.6" text-anchor="start" fill="#333" >R2</text>
<rect x="302.7" y="193.4" width="3.8" height="3.8" fill="#3444b4" />
<text x="308.6" y="197.6" font-size="6.6" text-anchor="start" fill="#333" >Q2</text>
<line x1="233.3" y1="447.4" x2="379.7" y2="447.4" stroke="#222" stroke-width="1" />
<line x1="239.4" y1="399" x2="239.4" y2="540.4" stroke="#333" stroke-width="1" />
<rect x="248.9" y="417.5" width="4.5" height="18.9" rx="2.25" ry="2.25" fill="#40b244" stroke="#349a38" stroke-width="0.35"/>
<rect x="251.59" y="413.5" width="4.5" height="22.9" rx="2.25" ry="2.25" fill="#40b244" stroke="#349a38" stroke-width="0.35"/>
<rect x="272.93" y="415.5" width="4.5" height="16.4" rx="2.25" ry="2.25" fill="#40b244" stroke="#349a38" stroke-width="0.35"/>
<rect x="274.95" y="413.5" width="4.5" height="18.4" rx="2.25" ry="2.25" fill="#40b244" stroke="#349a38" stroke-width="0.35"/>
<rect x="297.9" y="415.5" width="4.5" height="14.4" rx="2.25" ry="2.25" fill="#40b244" stroke="#349a38" stroke-width="0.35"/>
<rect x="299.93" y="413.5" width="4.5" height="16.4" rx="2.25" ry="2.25" fill="#40b244" stroke="#349a38" stroke-width="0.35"/>
<rect x="322.2" y="415.1" width="4.5" height="4.4" rx="2.25" ry="2.25" fill="#40b244" stroke="#349a38" stroke-width="0.35"/>
<rect x="324.9" y="417.3" width="4.5" height="4.4" rx="2.25" ry="2.25" fill="#40b244" stroke="#349a38" stroke-width="0.35"/>
<rect x="372.15" y="399.9" width="4.5" height="4.4" rx="2.25" ry="2.25" fill="#40b244" stroke="#349a38" stroke-width="0.35"/>
<rect x="251.94" y="427.4" width="3.8" height="3.8" fill="#3444b4"/>
<rect x="249.25" y="436.4" width="3.8" height="45.5" fill="#3444b4"/>
<rect x="251.94" y="436.4" width="3.8" height="49.4" fill="#3444b4"/>
<rect x="249.25" y="485.8" width="3.8" height="4" fill="#3444b4"/>
<rect x="249.25" y="494.5" width="3.8" height="2.4" fill="#3444b4"/>
<rect x="249.25" y="501.3" width="3.8" height="3.8" fill="#3444b4"/>
<rect x="249.25" y="535.3" width="3.8" height="3.8" fill="#3444b4"/>
<rect x="251.94" y="490.5" width="3.8" height="7.2" fill="#3444b4"/>
<rect x="251.94" y="504.9" width="3.8" height="3.8" fill="#3444b4"/>
<rect x="251.94" y="512" width="3.8" height="3.8" fill="#3444b4"/>
<rect x="273.28" y="432" width="3.8" height="56.2" fill="#3444b4"/>
<rect x="275.3" y="434" width="3.8" height="51" fill="#3444b4"/>
<rect x="300.28" y="431.9" width="3.8" height="5.8" fill="#3444b4"/>
<rect x="298.25" y="436.4" width="3.8" height="2.6" fill="#3444b4"/>
<rect x="298.25" y="441.6" width="3.8" height="3.8" fill="#3444b4"/>
<rect x="300.28" y="450" width="3.8" height="12.2" fill="#3444b4"/>
<rect x="298.25" y="453.8" width="3.8" height="7.8" fill="#3444b4"/>
<rect x="322.55" y="427.7" width="3.8" height="3.8" fill="#3444b4"/>
<rect x="325.25" y="441" width="3.8" height="5.4" fill="#3444b4"/>
<rect x="372.5" y="402.4" width="3.8" height="3.8" fill="#3444b4"/>
<line x1="239.4" y1="431.54" x2="374.4" y2="402.62" stroke="#222" stroke-width="0.8" stroke-dasharray="2.2,1.3"/>
<line x1="239.4" y1="471.19" x2="374.4" y2="404.02" stroke="#222" stroke-width="0.8" stroke-dasharray="2.2,1.3"/>
<rect x="233.3" y="399" width="146.4" height="141.4" fill="none" stroke="#444" stroke-width="1"/>
<line x1="231.5" y1="540.7" x2="233.3" y2="540.7" stroke="#444" stroke-width="0.9" />
<line x1="231.5" y1="529.04" x2="233.3" y2="529.04" stroke="#444" stroke-width="0.9" />
<line x1="231.5" y1="517.38" x2="233.3" y2="517.38" stroke="#444" stroke-width="0.9" />
<line x1="231.5" y1="505.71" x2="233.3" y2="505.71" stroke="#444" stroke-width="0.9" />
<line x1="231.5" y1="494.05" x2="233.3" y2="494.05" stroke="#444" stroke-width="0.9" />
<line x1="231.5" y1="482.39" x2="233.3" y2="482.39" stroke="#444" stroke-width="0.9" />
<line x1="231.5" y1="470.72" x2="233.3" y2="470.72" stroke="#444" stroke-width="0.9" />
<line x1="231.5" y1="459.06" x2="233.3" y2="459.06" stroke="#444" stroke-width="0.9" />
<line x1="231.5" y1="447.4" x2="233.3" y2="447.4" stroke="#444" stroke-width="0.9" />
<line x1="231.5" y1="435.74" x2="233.3" y2="435.74" stroke="#444" stroke-width="0.9" />
<line x1="231.5" y1="424.07" x2="233.3" y2="424.07" stroke="#444" stroke-width="0.9" />
<line x1="231.5" y1="412.41" x2="233.3" y2="412.41" stroke="#444" stroke-width="0.9" />
<line x1="231.5" y1="400.75" x2="233.3" y2="400.75" stroke="#444" stroke-width="0.9" />
<text x="230.7" y="404.05" font-size="9.8" text-anchor="end" fill="#1e1e1e" >1</text>
<text x="230.7" y="427.38" font-size="9.8" text-anchor="end" fill="#1e1e1e" >0.5</text>
<text x="230.7" y="450.7" font-size="9.8" text-anchor="end" fill="#1e1e1e" >0</text>
<text x="230.7" y="474.02" font-size="9.8" text-anchor="end" fill="#1e1e1e" >−0.5</text>
<text x="230.7" y="497.35" font-size="9.8" text-anchor="end" fill="#1e1e1e" >−1</text>
<text x="230.7" y="520.67" font-size="9.8" text-anchor="end" fill="#1e1e1e" >−1.5</text>
<text x="230.7" y="544" font-size="9.8" text-anchor="end" fill="#1e1e1e" >−2</text>
<line x1="239.4" y1="540.4" x2="239.4" y2="542.2" stroke="#444" stroke-width="0.9" />
<line x1="253.84" y1="540.4" x2="253.84" y2="542.2" stroke="#444" stroke-width="0.9" />
<line x1="266.4" y1="540.4" x2="266.4" y2="542.2" stroke="#444" stroke-width="0.9" />
<line x1="279.9" y1="540.4" x2="279.9" y2="542.2" stroke="#444" stroke-width="0.9" />
<line x1="293.4" y1="540.4" x2="293.4" y2="542.2" stroke="#444" stroke-width="0.9" />
<line x1="306.9" y1="540.4" x2="306.9" y2="542.2" stroke="#444" stroke-width="0.9" />
<line x1="320.4" y1="540.4" x2="320.4" y2="542.2" stroke="#444" stroke-width="0.9" />
<line x1="333.9" y1="540.4" x2="333.9" y2="542.2" stroke="#444" stroke-width="0.9" />
<line x1="347.4" y1="540.4" x2="347.4" y2="542.2" stroke="#444" stroke-width="0.9" />
<line x1="360.9" y1="540.4" x2="360.9" y2="542.2" stroke="#444" stroke-width="0.9" />
<line x1="374.4" y1="540.4" x2="374.4" y2="542.2" stroke="#444" stroke-width="0.9" />
<text x="239.4" y="552.2" font-size="9.8" text-anchor="middle" fill="#1e1e1e" >0</text>
<text x="266.4" y="552.2" font-size="9.8" text-anchor="middle" fill="#1e1e1e" >0.2</text>
<text x="293.4" y="552.2" font-size="9.8" text-anchor="middle" fill="#1e1e1e" >0.4</text>
<text x="320.4" y="552.2" font-size="9.8" text-anchor="middle" fill="#1e1e1e" >0.6</text>
<text x="347.4" y="552.2" font-size="9.8" text-anchor="middle" fill="#1e1e1e" >0.8</text>
<text x="374.4" y="552.2" font-size="9.8" text-anchor="middle" fill="#1e1e1e" >1</text>
<circle cx="286.5" cy="392.3" r="2.3" fill="#40b244" />
<text x="291" y="394.7" font-size="6.6" text-anchor="start" fill="#333" >R2</text>
<rect x="302.7" y="390.5" width="3.8" height="3.8" fill="#3444b4" />
<text x="308.6" y="394.7" font-size="6.6" text-anchor="start" fill="#333" >Q2</text>
<line x1="233.2" y1="642.3" x2="379.7" y2="642.3" stroke="#222" stroke-width="1" />
<line x1="239.4" y1="600.3" x2="239.4" y2="741.5" stroke="#333" stroke-width="1" />
<rect x="241.45" y="607.9" width="4.5" height="14.9" rx="2.25" ry="2.25" fill="#40b244" stroke="#349a38" stroke-width="0.35"/>
<rect x="259.71" y="609.9" width="4.5" height="16.8" rx="2.25" ry="2.25" fill="#40b244" stroke="#349a38" stroke-width="0.35"/>
<rect x="267.1" y="609.9" width="4.5" height="16.8" rx="2.25" ry="2.25" fill="#40b244" stroke="#349a38" stroke-width="0.35"/>
<rect x="285.5" y="611.2" width="4.5" height="14.2" rx="2.25" ry="2.25" fill="#40b244" stroke="#349a38" stroke-width="0.35"/>
<rect x="292.88" y="607.9" width="4.5" height="11" rx="2.25" ry="2.25" fill="#40b244" stroke="#349a38" stroke-width="0.35"/>
<rect x="292.88" y="621" width="4.5" height="4.4" rx="2.25" ry="2.25" fill="#40b244" stroke="#349a38" stroke-width="0.35"/>
<rect x="312.36" y="609.1" width="4.5" height="8.6" rx="2.25" ry="2.25" fill="#40b244" stroke="#349a38" stroke-width="0.35"/>
<rect x="319.07" y="609.8" width="4.5" height="9.4" rx="2.25" ry="2.25" fill="#40b244" stroke="#349a38" stroke-width="0.35"/>
<rect x="371.45" y="601.9" width="4.5" height="4.4" rx="2.25" ry="2.25" fill="#40b244" stroke="#349a38" stroke-width="0.35"/>
<rect x="241.8" y="622.8" width="3.8" height="3.9" fill="#3444b4"/>
<rect x="241.8" y="628.6" width="3.8" height="65.9" fill="#3444b4"/>
<rect x="241.8" y="696.1" width="3.8" height="3.9" fill="#3444b4"/>
<rect x="241.8" y="701.3" width="3.8" height="3.5" fill="#3444b4"/>
<rect x="260.06" y="626.7" width="3.8" height="7.1" fill="#3444b4"/>
<rect x="260.06" y="635.1" width="3.8" height="39.6" fill="#3444b4"/>
<rect x="260.06" y="677.1" width="3.8" height="11.1" fill="#3444b4"/>
<rect x="260.06" y="689.8" width="3.8" height="17.7" fill="#3444b4"/>
<rect x="260.06" y="724.2" width="3.8" height="3.8" fill="#3444b4"/>
<rect x="267.45" y="632.5" width="3.8" height="42" fill="#3444b4"/>
<rect x="267.45" y="676.5" width="3.8" height="10.1" fill="#3444b4"/>
<rect x="285.85" y="625.4" width="3.8" height="47.2" fill="#3444b4"/>
<rect x="285.85" y="673.2" width="3.8" height="2.3" fill="#3444b4"/>
<rect x="293.23" y="630.6" width="3.8" height="3.8" fill="#3444b4"/>
<rect x="293.23" y="639.6" width="3.8" height="11.7" fill="#3444b4"/>
<rect x="293.23" y="661.6" width="3.8" height="7.1" fill="#3444b4"/>
<rect x="312.71" y="637" width="3.8" height="5.2" fill="#3444b4"/>
<rect x="319.42" y="623.7" width="3.8" height="3.8" fill="#3444b4"/>
<rect x="319.42" y="645.2" width="3.8" height="5.7" fill="#3444b4"/>
<rect x="371.8" y="606.3" width="3.8" height="3.8" fill="#3444b4"/>
<line x1="239.4" y1="621.66" x2="373.7" y2="604.58" stroke="#222" stroke-width="0.8" stroke-dasharray="2.2,1.3"/>
<line x1="239.4" y1="668.5" x2="373.7" y2="608.55" stroke="#222" stroke-width="0.8" stroke-dasharray="2.2,1.3"/>
<rect x="233.2" y="600.3" width="146.5" height="141.2" fill="none" stroke="#444" stroke-width="1"/>
<line x1="231.4" y1="741.55" x2="233.2" y2="741.55" stroke="#444" stroke-width="0.9" />
<line x1="231.4" y1="731.62" x2="233.2" y2="731.62" stroke="#444" stroke-width="0.9" />
<line x1="231.4" y1="721.7" x2="233.2" y2="721.7" stroke="#444" stroke-width="0.9" />
<line x1="231.4" y1="711.77" x2="233.2" y2="711.77" stroke="#444" stroke-width="0.9" />
<line x1="231.4" y1="701.85" x2="233.2" y2="701.85" stroke="#444" stroke-width="0.9" />
<line x1="231.4" y1="691.92" x2="233.2" y2="691.92" stroke="#444" stroke-width="0.9" />
<line x1="231.4" y1="682" x2="233.2" y2="682" stroke="#444" stroke-width="0.9" />
<line x1="231.4" y1="672.07" x2="233.2" y2="672.07" stroke="#444" stroke-width="0.9" />
<line x1="231.4" y1="662.15" x2="233.2" y2="662.15" stroke="#444" stroke-width="0.9" />
<line x1="231.4" y1="652.22" x2="233.2" y2="652.22" stroke="#444" stroke-width="0.9" />
<line x1="231.4" y1="642.3" x2="233.2" y2="642.3" stroke="#444" stroke-width="0.9" />
<line x1="231.4" y1="632.38" x2="233.2" y2="632.38" stroke="#444" stroke-width="0.9" />
<line x1="231.4" y1="622.45" x2="233.2" y2="622.45" stroke="#444" stroke-width="0.9" />
<line x1="231.4" y1="612.52" x2="233.2" y2="612.52" stroke="#444" stroke-width="0.9" />
<line x1="231.4" y1="602.6" x2="233.2" y2="602.6" stroke="#444" stroke-width="0.9" />
<text x="230.6" y="605.9" font-size="9.8" text-anchor="end" fill="#1e1e1e" >1</text>
<text x="230.6" y="625.75" font-size="9.8" text-anchor="end" fill="#1e1e1e" >0.5</text>
<text x="230.6" y="645.6" font-size="9.8" text-anchor="end" fill="#1e1e1e" >0</text>
<text x="230.6" y="665.45" font-size="9.8" text-anchor="end" fill="#1e1e1e" >−0.5</text>
<text x="230.6" y="685.3" font-size="9.8" text-anchor="end" fill="#1e1e1e" >−1</text>
<text x="230.6" y="705.15" font-size="9.8" text-anchor="end" fill="#1e1e1e" >−1.5</text>
<text x="230.6" y="725" font-size="9.8" text-anchor="end" fill="#1e1e1e" >−2</text>
<text x="230.6" y="744.85" font-size="9.8" text-anchor="end" fill="#1e1e1e" >−2.5</text>
<line x1="239.4" y1="741.5" x2="239.4" y2="743.3" stroke="#444" stroke-width="0.9" />
<line x1="253.77" y1="741.5" x2="253.77" y2="743.3" stroke="#444" stroke-width="0.9" />
<line x1="266.26" y1="741.5" x2="266.26" y2="743.3" stroke="#444" stroke-width="0.9" />
<line x1="279.69" y1="741.5" x2="279.69" y2="743.3" stroke="#444" stroke-width="0.9" />
<line x1="293.12" y1="741.5" x2="293.12" y2="743.3" stroke="#444" stroke-width="0.9" />
<line x1="306.55" y1="741.5" x2="306.55" y2="743.3" stroke="#444" stroke-width="0.9" />
<line x1="319.98" y1="741.5" x2="319.98" y2="743.3" stroke="#444" stroke-width="0.9" />
<line x1="333.41" y1="741.5" x2="333.41" y2="743.3" stroke="#444" stroke-width="0.9" />
<line x1="346.84" y1="741.5" x2="346.84" y2="743.3" stroke="#444" stroke-width="0.9" />
<line x1="360.27" y1="741.5" x2="360.27" y2="743.3" stroke="#444" stroke-width="0.9" />
<line x1="373.7" y1="741.5" x2="373.7" y2="743.3" stroke="#444" stroke-width="0.9" />
<text x="239.4" y="753.3" font-size="9.8" text-anchor="middle" fill="#1e1e1e" >0</text>
<text x="266.26" y="753.3" font-size="9.8" text-anchor="middle" fill="#1e1e1e" >0.2</text>
<text x="293.12" y="753.3" font-size="9.8" text-anchor="middle" fill="#1e1e1e" >0.4</text>
<text x="319.98" y="753.3" font-size="9.8" text-anchor="middle" fill="#1e1e1e" >0.6</text>
<text x="346.84" y="753.3" font-size="9.8" text-anchor="middle" fill="#1e1e1e" >0.8</text>
<text x="373.7" y="753.3" font-size="9.8" text-anchor="middle" fill="#1e1e1e" >1</text>
<circle cx="286.5" cy="593.6" r="2.3" fill="#40b244" />
<text x="291" y="596" font-size="6.6" text-anchor="start" fill="#333" >R2</text>
<rect x="302.7" y="591.8" width="3.8" height="3.8" fill="#3444b4" />
<text x="308.6" y="596" font-size="6.6" text-anchor="start" fill="#333" >Q2</text>
<defs><linearGradient id="jet" x1="0" y1="1" x2="0" y2="0"><stop offset="0.0000" stop-color="#000080"/><stop offset="0.0312" stop-color="#00009f"/><stop offset="0.0625" stop-color="#0000bf"/><stop offset="0.0938" stop-color="#0000df"/><stop offset="0.1250" stop-color="#0000ff"/><stop offset="0.1562" stop-color="#0020ff"/><stop offset="0.1875" stop-color="#0040ff"/><stop offset="0.2188" stop-color="#0060ff"/><stop offset="0.2500" stop-color="#0080ff"/><stop offset="0.2812" stop-color="#009fff"/><stop offset="0.3125" stop-color="#00bfff"/><stop offset="0.3438" stop-color="#00dfff"/><stop offset="0.3750" stop-color="#00ffff"/><stop offset="0.4062" stop-color="#20ffdf"/><stop offset="0.4375" stop-color="#40ffbf"/><stop offset="0.4688" stop-color="#60ff9f"/><stop offset="0.5000" stop-color="#80ff80"/><stop offset="0.5312" stop-color="#9fff60"/><stop offset="0.5625" stop-color="#bfff40"/><stop offset="0.5938" stop-color="#dfff20"/><stop offset="0.6250" stop-color="#ffff00"/><stop offset="0.6562" stop-color="#ffdf00"/><stop offset="0.6875" stop-color="#ffbf00"/><stop offset="0.7188" stop-color="#ff9f00"/><stop offset="0.7500" stop-color="#ff8000"/><stop offset="0.7812" stop-color="#ff6000"/><stop offset="0.8125" stop-color="#ff4000"/><stop offset="0.8438" stop-color="#ff2000"/><stop offset="0.8750" stop-color="#ff0000"/><stop offset="0.9062" stop-color="#df0000"/><stop offset="0.9375" stop-color="#bf0000"/><stop offset="0.9688" stop-color="#9f0000"/><stop offset="1.0000" stop-color="#800000"/></linearGradient></defs>
<line x1="436.5" y1="105.5" x2="657.6" y2="105.5" stroke="#0a0a0a" stroke-width="1.05" stroke-dasharray="3,1.7"/>
<circle cx="441.6" cy="29.5" r="3.15" fill="#ff2e00" />
<circle cx="451.1" cy="39" r="3.15" fill="#ff2e00" />
<circle cx="457.8" cy="74.6" r="3.15" fill="#ff2e00" />
<circle cx="481" cy="70.7" r="3.15" fill="#ff3800" />
<circle cx="496.9" cy="80.3" r="3.6" fill="#ff6b00" />
<circle cx="490.1" cy="57.8" r="5" fill="#ff0f00" />
<circle cx="501.3" cy="86.7" r="3.45" fill="#ff1a00" />
<circle cx="508.7" cy="92.1" r="3.15" fill="#ff6100" />
<circle cx="538" cy="90.6" r="3.15" fill="#ff0500" />
<circle cx="547.8" cy="80.2" r="3.15" fill="#ff4c00" />
<circle cx="499" cy="97.2" r="3.15" fill="#faff05" />
<circle cx="495.2" cy="97" r="3.15" fill="#ff6100" />
<circle cx="490.1" cy="95.2" r="3.15" fill="#ff9e00" />
<circle cx="486.9" cy="99.8" r="3.15" fill="#c70000" />
<circle cx="498.2" cy="101.6" r="3.15" fill="#ff7500" />
<circle cx="459.9" cy="100" r="3.15" fill="#ffdb00" />
<circle cx="493.6" cy="120.5" r="3.15" fill="#38ffc7" />
<circle cx="498" cy="116" r="3.15" fill="#80ff80" />
<circle cx="507.2" cy="107.8" r="3.15" fill="#ffd100" />
<circle cx="512.2" cy="112.2" r="3.15" fill="#ff0f00" />
<circle cx="508.7" cy="112.4" r="3.15" fill="#ff9e00" />
<circle cx="520" cy="116.8" r="2.8" fill="#ff3800" />
<circle cx="514.5" cy="117.9" r="3.15" fill="#4dffb2" />
<circle cx="517" cy="122.3" r="3.15" fill="#009eff" />
<circle cx="515.4" cy="125.1" r="3.15" fill="#00d1ff" />
<circle cx="519.7" cy="129.2" r="3.15" fill="#38ffc7" />
<circle cx="532.3" cy="129.2" r="3.15" fill="#0080ff" />
<circle cx="527.1" cy="131.1" r="3.15" fill="#fa0000" />
<circle cx="524.3" cy="132.9" r="3.15" fill="#1affe5" />
<circle cx="532.6" cy="122.3" r="3.15" fill="#f0ff0f" />
<circle cx="531.1" cy="126" r="3.15" fill="#ff9400" />
<circle cx="539.8" cy="113.9" r="3.15" fill="#94ff6b" />
<circle cx="537.1" cy="110.8" r="3.15" fill="#ff0500" />
<circle cx="541.7" cy="106.7" r="3.15" fill="#ff8a00" />
<circle cx="540.9" cy="119.1" r="3.15" fill="#42ffbd" />
<circle cx="544.9" cy="124.3" r="3.15" fill="#94ff6b" />
<circle cx="545.2" cy="116.2" r="3.7" fill="#ff3800" />
<circle cx="557.2" cy="115.6" r="3.5" fill="#b30000" />
<circle cx="580.1" cy="15" r="3.15" fill="#fa0000" />
<circle cx="619.7" cy="39.9" r="3.15" fill="#fa0000" />
<circle cx="622.9" cy="41.6" r="3.15" fill="#fa0000" />
<circle cx="630.1" cy="55" r="3.15" fill="#ff2e00" />
<circle cx="568.6" cy="57.8" r="3.15" fill="#ff4c00" />
<circle cx="601" cy="79.7" r="3.15" fill="#c70000" />
<line x1="497.4" y1="73" x2="497.4" y2="76.3" stroke="#111" stroke-width="0.9" />
<line x1="505.6" y1="80.8" x2="503.4" y2="84.1" stroke="#111" stroke-width="0.9" />
<line x1="513.8" y1="88.4" x2="511" y2="91.6" stroke="#111" stroke-width="0.9" />
<line x1="480.8" y1="97" x2="485.1" y2="99.1" stroke="#111" stroke-width="0.9" />
<line x1="614.5" y1="35.1" x2="618.8" y2="38.4" stroke="#111" stroke-width="0.9" />
<line x1="629" y1="34.5" x2="624.7" y2="38.8" stroke="#111" stroke-width="0.9" />
<text x="446.3" y="23.6" font-size="6.9" text-anchor="middle" fill="#222" >HDL</text>
<text x="452.8" y="33.8" font-size="6.9" text-anchor="middle" fill="#222" >Suc</text>
<text x="490.5" y="51.6" font-size="6.9" text-anchor="middle" fill="#222" >Lac</text>
<text x="456" y="68.7" font-size="6.9" text-anchor="middle" fill="#222" >3-HB</text>
<text x="481.5" y="65" font-size="6.9" text-anchor="middle" fill="#222" >IB</text>
<text x="498.1" y="71.9" font-size="6.9" text-anchor="middle" fill="#222" >β-Glc</text>
<text x="506.3" y="79.4" font-size="6.9" text-anchor="middle" fill="#222" >Cr</text>
<text x="517.5" y="87" font-size="6.9" text-anchor="middle" fill="#222" >Met</text>
<text x="489.4" y="89.8" font-size="6.9" text-anchor="middle" fill="#222" >Py</text>
<text x="477.6" y="95.6" font-size="6.9" text-anchor="middle" fill="#222" >All</text>
<text x="459.9" y="96.5" font-size="6.9" text-anchor="middle" fill="#222" >Asc</text>
<text x="537.5" y="85.3" font-size="6.9" text-anchor="middle" fill="#222" >m-I</text>
<text x="580.5" y="10.7" font-size="6.9" text-anchor="middle" fill="#222" >Mol</text>
<text x="610.7" y="33.3" font-size="6.9" text-anchor="middle" fill="#222" >VLDL</text>
<text x="632.2" y="32.7" font-size="6.9" text-anchor="middle" fill="#222" >DMA</text>
<text x="627.9" y="51" font-size="6.9" text-anchor="middle" fill="#222" >Sar</text>
<text x="569.3" y="53.8" font-size="6.9" text-anchor="middle" fill="#222" >Act</text>
<text x="601" y="75.3" font-size="6.9" text-anchor="middle" fill="#222" >TMA</text>
<rect x="436.5" y="2.5" width="221.1" height="133.9" fill="none" stroke="#333" stroke-width="1"/>
<line x1="436.5" y1="134.5" x2="438.7" y2="134.5" stroke="#333" stroke-width="0.9" />
<line x1="655.4" y1="134.5" x2="657.6" y2="134.5" stroke="#333" stroke-width="0.9" />
<text x="433.9" y="137.7" font-size="9.3" text-anchor="end" fill="#1e1e1e" >0</text>
<line x1="436.5" y1="112.5" x2="438.7" y2="112.5" stroke="#333" stroke-width="0.9" />
<line x1="655.4" y1="112.5" x2="657.6" y2="112.5" stroke="#333" stroke-width="0.9" />
<text x="433.9" y="115.7" font-size="9.3" text-anchor="end" fill="#1e1e1e" >1</text>
<line x1="436.5" y1="90.5" x2="438.7" y2="90.5" stroke="#333" stroke-width="0.9" />
<line x1="655.4" y1="90.5" x2="657.6" y2="90.5" stroke="#333" stroke-width="0.9" />
<text x="433.9" y="93.7" font-size="9.3" text-anchor="end" fill="#1e1e1e" >2</text>
<line x1="436.5" y1="68.5" x2="438.7" y2="68.5" stroke="#333" stroke-width="0.9" />
<line x1="655.4" y1="68.5" x2="657.6" y2="68.5" stroke="#333" stroke-width="0.9" />
<text x="433.9" y="71.7" font-size="9.3" text-anchor="end" fill="#1e1e1e" >3</text>
<line x1="436.5" y1="46.5" x2="438.7" y2="46.5" stroke="#333" stroke-width="0.9" />
<line x1="655.4" y1="46.5" x2="657.6" y2="46.5" stroke="#333" stroke-width="0.9" />
<text x="433.9" y="49.7" font-size="9.3" text-anchor="end" fill="#1e1e1e" >4</text>
<line x1="436.5" y1="24.5" x2="438.7" y2="24.5" stroke="#333" stroke-width="0.9" />
<line x1="655.4" y1="24.5" x2="657.6" y2="24.5" stroke="#333" stroke-width="0.9" />
<text x="433.9" y="27.7" font-size="9.3" text-anchor="end" fill="#1e1e1e" >5</text>
<line x1="436.5" y1="2.5" x2="438.7" y2="2.5" stroke="#333" stroke-width="0.9" />
<line x1="655.4" y1="2.5" x2="657.6" y2="2.5" stroke="#333" stroke-width="0.9" />
<text x="433.9" y="5.7" font-size="9.3" text-anchor="end" fill="#1e1e1e" >6</text>
<line x1="438" y1="136.4" x2="438" y2="134.2" stroke="#333" stroke-width="0.9" />
<line x1="438" y1="2.5" x2="438" y2="4.7" stroke="#333" stroke-width="0.9" />
<text x="438" y="146.7" font-size="9.3" text-anchor="middle" fill="#1e1e1e" >−1</text>
<line x1="481.9" y1="136.4" x2="481.9" y2="134.2" stroke="#333" stroke-width="0.9" />
<line x1="481.9" y1="2.5" x2="481.9" y2="4.7" stroke="#333" stroke-width="0.9" />
<text x="481.9" y="146.7" font-size="9.3" text-anchor="middle" fill="#1e1e1e" >−0.5</text>
<line x1="525.8" y1="136.4" x2="525.8" y2="134.2" stroke="#333" stroke-width="0.9" />
<line x1="525.8" y1="2.5" x2="525.8" y2="4.7" stroke="#333" stroke-width="0.9" />
<text x="525.8" y="146.7" font-size="9.3" text-anchor="middle" fill="#1e1e1e" >0</text>
<line x1="569.7" y1="136.4" x2="569.7" y2="134.2" stroke="#333" stroke-width="0.9" />
<line x1="569.7" y1="2.5" x2="569.7" y2="4.7" stroke="#333" stroke-width="0.9" />
<text x="569.7" y="146.7" font-size="9.3" text-anchor="middle" fill="#1e1e1e" >0.5</text>
<line x1="613.6" y1="136.4" x2="613.6" y2="134.2" stroke="#333" stroke-width="0.9" />
<line x1="613.6" y1="2.5" x2="613.6" y2="4.7" stroke="#333" stroke-width="0.9" />
<text x="613.6" y="146.7" font-size="9.3" text-anchor="middle" fill="#1e1e1e" >1</text>
<line x1="657.5" y1="136.4" x2="657.5" y2="134.2" stroke="#333" stroke-width="0.9" />
<line x1="657.5" y1="2.5" x2="657.5" y2="4.7" stroke="#333" stroke-width="0.9" />
<text x="657.5" y="146.7" font-size="9.3" text-anchor="middle" fill="#1e1e1e" >1.5</text>
<rect x="665.3" y="2.5" width="9.7" height="133.8" fill="url(#jet)" stroke="#333" stroke-width="0.8"/>
<text x="677" y="7.9" font-size="9.4" text-anchor="start" fill="#1e1e1e" >1</text>
<line x1="665.3" y1="29.26" x2="666.7" y2="29.26" stroke="#444" stroke-width="0.6" />
<line x1="673.6" y1="29.26" x2="675" y2="29.26" stroke="#444" stroke-width="0.6" />
<text x="677" y="34" font-size="9.4" text-anchor="start" fill="#1e1e1e" >0.8</text>
<line x1="665.3" y1="56.02" x2="666.7" y2="56.02" stroke="#444" stroke-width="0.6" />
<line x1="673.6" y1="56.02" x2="675" y2="56.02" stroke="#444" stroke-width="0.6" />
<text x="677" y="60.4" font-size="9.4" text-anchor="start" fill="#1e1e1e" >0.6</text>
<line x1="665.3" y1="82.78" x2="666.7" y2="82.78" stroke="#444" stroke-width="0.6" />
<line x1="673.6" y1="82.78" x2="675" y2="82.78" stroke="#444" stroke-width="0.6" />
<text x="677" y="86.3" font-size="9.4" text-anchor="start" fill="#1e1e1e" >0.4</text>
<line x1="665.3" y1="109.54" x2="666.7" y2="109.54" stroke="#444" stroke-width="0.6" />
<line x1="673.6" y1="109.54" x2="675" y2="109.54" stroke="#444" stroke-width="0.6" />
<text x="677" y="112.1" font-size="9.4" text-anchor="start" fill="#1e1e1e" >0.2</text>
<text x="677" y="138" font-size="9.4" text-anchor="start" fill="#1e1e1e" >0</text>
<text x="0" y="0" font-size="9.6" text-anchor="middle" fill="#1e1e1e" transform="translate(421.8,68.5) rotate(-90)">−Log<tspan font-size="6" dy="2">10</tspan><tspan dy="-2">(p-value): PANC vs. C</tspan></text>
<text x="548.8" y="156.8" font-size="9.6" text-anchor="middle" fill="#1e1e1e">Log<tspan font-size="6" dy="2">2</tspan><tspan dy="-2">(fold change): PANC </tspan><tspan font-style="italic">vs.</tspan> C</text>
<line x1="439.8" y1="311.5" x2="660.7" y2="311.5" stroke="#0a0a0a" stroke-width="1.05" stroke-dasharray="3,1.7"/>
<circle cx="450" cy="293.8" r="3.45" fill="#ff6100" />
<circle cx="491.2" cy="287.8" r="3.45" fill="#ff6100" />
<circle cx="504.5" cy="284.8" r="3.45" fill="#ff4c00" />
<circle cx="511.6" cy="282" r="3.45" fill="#ff4c00" />
<circle cx="523.9" cy="272.3" r="3.45" fill="#fa0000" />
<circle cx="516.4" cy="298.6" r="3.45" fill="#fff000" />
<circle cx="504.5" cy="306.8" r="3.45" fill="#fffa00" />
<circle cx="543.6" cy="300.5" r="3.45" fill="#ff6b00" />
<circle cx="548.6" cy="293.4" r="3.45" fill="#fa0000" />
<circle cx="539.8" cy="311" r="3.45" fill="#94ff6b" />
<circle cx="546.1" cy="312.8" r="3.45" fill="#fff000" />
<circle cx="551.3" cy="315.6" r="3.45" fill="#4dffb2" />
<circle cx="554.7" cy="315.1" r="3.45" fill="#ff6100" />
<circle cx="555.3" cy="308.7" r="3.45" fill="#80ff80" />
<circle cx="559.7" cy="311" r="3.45" fill="#fffa00" />
<circle cx="558.2" cy="317.9" r="3.8" fill="#ff6100" />
<circle cx="561" cy="320.8" r="3.8" fill="#ff6100" />
<circle cx="562.2" cy="325.4" r="3.45" fill="#ff6100" />
<circle cx="565.6" cy="325.4" r="3.45" fill="#ff6100" />
<circle cx="567.9" cy="323.1" r="3.45" fill="#fffa00" />
<circle cx="571.4" cy="321.4" r="2.5" fill="#1affe5" />
<circle cx="569.7" cy="319.1" r="3.45" fill="#94ff6b" />
<circle cx="576" cy="317.9" r="3.45" fill="#94ff6b" />
<circle cx="583.1" cy="319.7" r="3.45" fill="#ffc700" />
<circle cx="578.3" cy="313.3" r="3.45" fill="#ff0500" />
<circle cx="582.9" cy="313.3" r="3.45" fill="#ff0500" />
<circle cx="581.1" cy="309.9" r="2.5" fill="#4dffb2" />
<circle cx="586.3" cy="310.5" r="3.45" fill="#ff4c00" />
<circle cx="580" cy="307.4" r="3.45" fill="#ffb300" />
<circle cx="583.8" cy="289.4" r="3.45" fill="#ff6100" />
<circle cx="584.9" cy="293.8" r="3.45" fill="#ff6100" />
<circle cx="588.6" cy="295.5" r="3.45" fill="#ff8000" />
<circle cx="576.6" cy="299.3" r="3.45" fill="#b30000" />
<circle cx="580" cy="298.4" r="3.45" fill="#fa0000" />
<circle cx="584" cy="299" r="3.45" fill="#ff4c00" />
<circle cx="587.1" cy="300.1" r="3.45" fill="#b30000" />
<circle cx="585.2" cy="304.7" r="3.45" fill="#fa0000" />
<circle cx="599" cy="311.6" r="3.45" fill="#ff6b00" />
<circle cx="605" cy="270.5" r="3.45" fill="#fa0000" />
<circle cx="634.9" cy="198.2" r="3.45" fill="#9e0000" />
<circle cx="642.3" cy="210.3" r="3.45" fill="#9e0000" />
<line x1="511.6" y1="271.8" x2="511.6" y2="276.4" stroke="#111" stroke-width="0.9" />
<line x1="535.8" y1="295" x2="540" y2="298.1" stroke="#111" stroke-width="0.9" />
<line x1="574.8" y1="292.6" x2="577.4" y2="294.9" stroke="#111" stroke-width="0.9" />
<line x1="570.8" y1="300.7" x2="573.1" y2="300.7" stroke="#111" stroke-width="0.9" />
<line x1="576.6" y1="305.9" x2="579.4" y2="303.6" stroke="#111" stroke-width="0.9" />
<line x1="592.6" y1="319.7" x2="584" y2="311" stroke="#111" stroke-width="0.9" />
<line x1="593.2" y1="304.7" x2="588.6" y2="308.7" stroke="#111" stroke-width="0.9" />
<line x1="595" y1="295" x2="589.8" y2="299.5" stroke="#111" stroke-width="0.9" />
<line x1="596.1" y1="288.6" x2="590.3" y2="293.2" stroke="#111" stroke-width="0.9" />
<line x1="592.1" y1="287.5" x2="588" y2="291.5" stroke="#111" stroke-width="0.9" />
<line x1="583.2" y1="279.6" x2="583.2" y2="284" stroke="#111" stroke-width="0.9" />
<text x="451.7" y="287.7" font-size="6.9" text-anchor="middle" fill="#222" >Asc</text>
<text x="490.1" y="282.3" font-size="6.9" text-anchor="middle" fill="#222" >3-HB</text>
<text x="503.4" y="279.1" font-size="6.9" text-anchor="middle" fill="#222" >Py</text>
<text x="510.3" y="270" font-size="6.9" text-anchor="middle" fill="#222" >Suc</text>
<text x="525.4" y="265.1" font-size="6.9" text-anchor="middle" fill="#222" >α-Glc</text>
<text x="533" y="292.5" font-size="6.9" text-anchor="middle" fill="#222" >β-Glc</text>
<text x="549.1" y="287" font-size="6.9" text-anchor="middle" fill="#222" >Cit</text>
<text x="604.7" y="266.1" font-size="6.9" text-anchor="middle" fill="#222" >Mol</text>
<text x="622.3" y="201.7" font-size="6.9" text-anchor="middle" fill="#222" >DMA</text>
<text x="643.7" y="205.4" font-size="6.9" text-anchor="middle" fill="#222" >Sar</text>
<text x="581.4" y="278.1" font-size="6.9" text-anchor="middle" fill="#222" >LDL</text>
<text x="589.8" y="286.5" font-size="6.9" text-anchor="middle" fill="#222" >Leu</text>
<text x="602.4" y="289.4" font-size="6.9" text-anchor="middle" fill="#222" >Ser</text>
<text x="603.8" y="296.3" font-size="6.9" text-anchor="middle" fill="#222" >Lipid</text>
<text x="599" y="303.8" font-size="6.9" text-anchor="middle" fill="#222" >GPC</text>
<text x="572.3" y="292.3" font-size="6.9" text-anchor="middle" fill="#222" >Glu</text>
<text x="564.5" y="302.6" font-size="6.9" text-anchor="middle" fill="#222" >Lys</text>
<text x="569.1" y="310.1" font-size="6.9" text-anchor="middle" fill="#222" >Met</text>
<text x="602.8" y="319.9" font-size="6.9" text-anchor="middle" fill="#222" >TMAO</text>
<rect x="439.8" y="192.3" width="220.9" height="135.2" fill="none" stroke="#333" stroke-width="1"/>
<line x1="439.8" y1="324.2" x2="442" y2="324.2" stroke="#333" stroke-width="0.9" />
<line x1="658.5" y1="324.2" x2="660.7" y2="324.2" stroke="#333" stroke-width="0.9" />
<text x="437.2" y="327.4" font-size="9.3" text-anchor="end" fill="#1e1e1e" >0</text>
<line x1="439.8" y1="305.54" x2="442" y2="305.54" stroke="#333" stroke-width="0.9" />
<line x1="658.5" y1="305.54" x2="660.7" y2="305.54" stroke="#333" stroke-width="0.9" />
<text x="437.2" y="308.74" font-size="9.3" text-anchor="end" fill="#1e1e1e" >2</text>
<line x1="439.8" y1="286.88" x2="442" y2="286.88" stroke="#333" stroke-width="0.9" />
<line x1="658.5" y1="286.88" x2="660.7" y2="286.88" stroke="#333" stroke-width="0.9" />
<text x="437.2" y="290.08" font-size="9.3" text-anchor="end" fill="#1e1e1e" >4</text>
<line x1="439.8" y1="268.22" x2="442" y2="268.22" stroke="#333" stroke-width="0.9" />
<line x1="658.5" y1="268.22" x2="660.7" y2="268.22" stroke="#333" stroke-width="0.9" />
<text x="437.2" y="271.42" font-size="9.3" text-anchor="end" fill="#1e1e1e" >6</text>
<line x1="439.8" y1="249.56" x2="442" y2="249.56" stroke="#333" stroke-width="0.9" />
<line x1="658.5" y1="249.56" x2="660.7" y2="249.56" stroke="#333" stroke-width="0.9" />
<text x="437.2" y="252.76" font-size="9.3" text-anchor="end" fill="#1e1e1e" >8</text>
<line x1="439.8" y1="230.9" x2="442" y2="230.9" stroke="#333" stroke-width="0.9" />
<line x1="658.5" y1="230.9" x2="660.7" y2="230.9" stroke="#333" stroke-width="0.9" />
<text x="437.2" y="234.1" font-size="9.3" text-anchor="end" fill="#1e1e1e" >10</text>
<line x1="439.8" y1="212.24" x2="442" y2="212.24" stroke="#333" stroke-width="0.9" />
<line x1="658.5" y1="212.24" x2="660.7" y2="212.24" stroke="#333" stroke-width="0.9" />
<text x="437.2" y="215.44" font-size="9.3" text-anchor="end" fill="#1e1e1e" >12</text>
<line x1="439.8" y1="193.58" x2="442" y2="193.58" stroke="#333" stroke-width="0.9" />
<line x1="658.5" y1="193.58" x2="660.7" y2="193.58" stroke="#333" stroke-width="0.9" />
<text x="437.2" y="196.78" font-size="9.3" text-anchor="end" fill="#1e1e1e" >14</text>
<line x1="440" y1="327.5" x2="440" y2="325.3" stroke="#333" stroke-width="0.9" />
<line x1="440" y1="192.3" x2="440" y2="194.5" stroke="#333" stroke-width="0.9" />
<text x="440" y="337.8" font-size="9.3" text-anchor="middle" fill="#1e1e1e" >−2</text>
<line x1="471.5" y1="327.5" x2="471.5" y2="325.3" stroke="#333" stroke-width="0.9" />
<line x1="471.5" y1="192.3" x2="471.5" y2="194.5" stroke="#333" stroke-width="0.9" />
<text x="471.5" y="337.8" font-size="9.3" text-anchor="middle" fill="#1e1e1e" >−1.5</text>
<line x1="503" y1="327.5" x2="503" y2="325.3" stroke="#333" stroke-width="0.9" />
<line x1="503" y1="192.3" x2="503" y2="194.5" stroke="#333" stroke-width="0.9" />
<text x="503" y="337.8" font-size="9.3" text-anchor="middle" fill="#1e1e1e" >−1</text>
<line x1="534.5" y1="327.5" x2="534.5" y2="325.3" stroke="#333" stroke-width="0.9" />
<line x1="534.5" y1="192.3" x2="534.5" y2="194.5" stroke="#333" stroke-width="0.9" />
<text x="534.5" y="337.8" font-size="9.3" text-anchor="middle" fill="#1e1e1e" >−0.5</text>
<line x1="566" y1="327.5" x2="566" y2="325.3" stroke="#333" stroke-width="0.9" />
<line x1="566" y1="192.3" x2="566" y2="194.5" stroke="#333" stroke-width="0.9" />
<text x="566" y="337.8" font-size="9.3" text-anchor="middle" fill="#1e1e1e" >0</text>
<line x1="597.5" y1="327.5" x2="597.5" y2="325.3" stroke="#333" stroke-width="0.9" />
<line x1="597.5" y1="192.3" x2="597.5" y2="194.5" stroke="#333" stroke-width="0.9" />
<text x="597.5" y="337.8" font-size="9.3" text-anchor="middle" fill="#1e1e1e" >0.5</text>
<line x1="629" y1="327.5" x2="629" y2="325.3" stroke="#333" stroke-width="0.9" />
<line x1="629" y1="192.3" x2="629" y2="194.5" stroke="#333" stroke-width="0.9" />
<text x="629" y="337.8" font-size="9.3" text-anchor="middle" fill="#1e1e1e" >1</text>
<line x1="660.5" y1="327.5" x2="660.5" y2="325.3" stroke="#333" stroke-width="0.9" />
<line x1="660.5" y1="192.3" x2="660.5" y2="194.5" stroke="#333" stroke-width="0.9" />
<text x="660.5" y="337.8" font-size="9.3" text-anchor="middle" fill="#1e1e1e" >1.5</text>
<rect x="668" y="192.3" width="9.4" height="135.5" fill="url(#jet)" stroke="#333" stroke-width="0.8"/>
<text x="679.2" y="197.1" font-size="9.4" text-anchor="start" fill="#1e1e1e" >1</text>
<line x1="668" y1="219.4" x2="669.4" y2="219.4" stroke="#444" stroke-width="0.6" />
<line x1="676" y1="219.4" x2="677.4" y2="219.4" stroke="#444" stroke-width="0.6" />
<text x="679.2" y="224.3" font-size="9.4" text-anchor="start" fill="#1e1e1e" >0.8</text>
<line x1="668" y1="246.5" x2="669.4" y2="246.5" stroke="#444" stroke-width="0.6" />
<line x1="676" y1="246.5" x2="677.4" y2="246.5" stroke="#444" stroke-width="0.6" />
<text x="679.2" y="250.9" font-size="9.4" text-anchor="start" fill="#1e1e1e" >0.6</text>
<line x1="668" y1="273.6" x2="669.4" y2="273.6" stroke="#444" stroke-width="0.6" />
<line x1="676" y1="273.6" x2="677.4" y2="273.6" stroke="#444" stroke-width="0.6" />
<text x="679.2" y="277.8" font-size="9.4" text-anchor="start" fill="#1e1e1e" >0.4</text>
<line x1="668" y1="300.7" x2="669.4" y2="300.7" stroke="#444" stroke-width="0.6" />
<line x1="676" y1="300.7" x2="677.4" y2="300.7" stroke="#444" stroke-width="0.6" />
<text x="679.2" y="304.4" font-size="9.4" text-anchor="start" fill="#1e1e1e" >0.2</text>
<text x="679.2" y="330.9" font-size="9.4" text-anchor="start" fill="#1e1e1e" >0</text>
<text x="0" y="0" font-size="9.6" text-anchor="middle" fill="#1e1e1e" transform="translate(422.5,257) rotate(-90)">−Log<tspan font-size="6" dy="2">10</tspan><tspan dy="-2">(p-value): CUS-H vs. C</tspan></text>
<text x="551.6" y="348.3" font-size="9.6" text-anchor="middle" fill="#1e1e1e">Log<tspan font-size="6" dy="2">2</tspan><tspan dy="-2">(fold change): CUS-H </tspan><tspan font-style="italic">vs.</tspan> C</text>
<line x1="440.4" y1="509.5" x2="660.8" y2="509.5" stroke="#0a0a0a" stroke-width="1.05" stroke-dasharray="3,1.7"/>
<circle cx="461" cy="467.7" r="3.15" fill="#ff3800" />
<circle cx="479.3" cy="478.1" r="3.15" fill="#fa0000" />
<circle cx="463.6" cy="486.3" r="3.15" fill="#ff3800" />
<circle cx="494.8" cy="483.4" r="3.15" fill="#ff4c00" />
<circle cx="494.8" cy="491" r="3.15" fill="#ff2e00" />
<circle cx="516" cy="480.6" r="5.3" fill="#fa0000" />
<circle cx="520.2" cy="478.6" r="4.3" fill="#fa0000" />
<circle cx="528.3" cy="492.6" r="3.15" fill="#fa0000" />
<circle cx="475" cy="501.8" r="3.15" fill="#ffc700" />
<circle cx="477.2" cy="503.9" r="3.15" fill="#ffb300" />
<circle cx="518.5" cy="501.3" r="3.15" fill="#ffd100" />
<circle cx="527.2" cy="507.6" r="3.15" fill="#fa0000" />
<circle cx="531" cy="507.2" r="3.15" fill="#ff4c00" />
<circle cx="536.4" cy="509" r="3.15" fill="#ff6100" />
<circle cx="537.9" cy="503.9" r="3.15" fill="#fffa00" />
<circle cx="541.2" cy="511" r="3.15" fill="#fa0000" />
<circle cx="528.2" cy="513.2" r="3.15" fill="#94ff6b" />
<circle cx="545.7" cy="517.3" r="3.15" fill="#009eff" />
<circle cx="548.5" cy="518.5" r="3.15" fill="#80ff80" />
<circle cx="551" cy="519.7" r="3.15" fill="#fffa00" />
<circle cx="556.2" cy="514.5" r="3.15" fill="#ff6100" />
<circle cx="556.2" cy="516.7" r="3.15" fill="#fa0000" />
<circle cx="561.4" cy="515.9" r="3.15" fill="#80ff80" />
<circle cx="563.1" cy="511.6" r="3.15" fill="#4dffb2" />
<circle cx="558.8" cy="508.6" r="3.15" fill="#fa0000" />
<circle cx="561.4" cy="506.4" r="3.15" fill="#b30000" />
<circle cx="567.4" cy="505.2" r="3.15" fill="#ff6100" />
<circle cx="571.7" cy="503.8" r="3.15" fill="#ff6100" />
<circle cx="569.1" cy="500.3" r="3.15" fill="#ff6100" />
<circle cx="569.1" cy="494.8" r="3.15" fill="#ff0500" />
<circle cx="568.6" cy="488.3" r="3.15" fill="#ff3800" />
<circle cx="573.4" cy="489.7" r="3.15" fill="#ff4c00" />
<circle cx="576.9" cy="490.9" r="3.15" fill="#b30000" />
<circle cx="582.4" cy="491.7" r="3.15" fill="#ff6100" />
<circle cx="578.6" cy="499.5" r="4" fill="#e50000" />
<circle cx="596.4" cy="464.1" r="3.15" fill="#fa0000" />
<circle cx="626.4" cy="459.8" r="3.15" fill="#b30000" />
<circle cx="617.1" cy="490.5" r="3.15" fill="#e50000" />
<circle cx="635.5" cy="395.2" r="3.15" fill="#9e0000" />
<circle cx="638.8" cy="403.9" r="3.15" fill="#9e0000" />
<line x1="515.1" y1="470.8" x2="515.1" y2="473.4" stroke="#111" stroke-width="0.9" />
<line x1="499.6" y1="491.4" x2="503.4" y2="491.4" stroke="#111" stroke-width="0.9" />
<line x1="527.2" y1="472.7" x2="523.9" y2="475.9" stroke="#111" stroke-width="0.9" />
<line x1="534.7" y1="498.5" x2="534.7" y2="501.8" stroke="#111" stroke-width="0.9" />
<line x1="484.1" y1="499.6" x2="480.8" y2="502.8" stroke="#111" stroke-width="0.9" />
<line x1="534.1" y1="512.4" x2="534.1" y2="516.7" stroke="#111" stroke-width="0.9" />
<line x1="576.6" y1="481" x2="576.6" y2="485.2" stroke="#111" stroke-width="0.9" />
<line x1="559.3" y1="493.1" x2="564" y2="497.8" stroke="#111" stroke-width="0.9" />
<line x1="556.2" y1="500.3" x2="559.3" y2="502.9" stroke="#111" stroke-width="0.9" />
<line x1="572.6" y1="494.8" x2="588.1" y2="494.8" stroke="#111" stroke-width="0.9" />
<line x1="584.1" y1="500.3" x2="587.2" y2="500.3" stroke="#111" stroke-width="0.9" />
<line x1="568.6" y1="509.8" x2="568.6" y2="515.5" stroke="#111" stroke-width="0.9" />
<line x1="573.4" y1="506.4" x2="581.2" y2="512.4" stroke="#111" stroke-width="0.9" />
<line x1="572.6" y1="502.1" x2="587.2" y2="515.9" stroke="#111" stroke-width="0.9" />
<line x1="627.5" y1="395.6" x2="631" y2="395.6" stroke="#111" stroke-width="0.9" />
<line x1="638.8" y1="409.2" x2="638.8" y2="411.7" stroke="#111" stroke-width="0.9" />
<text x="480.8" y="470.9" font-size="6.9" text-anchor="middle" fill="#222" >Suc</text>
<text x="461.9" y="481.6" font-size="6.9" text-anchor="middle" fill="#222" >3-HB</text>
<text x="495.9" y="477.3" font-size="6.9" text-anchor="middle" fill="#222" >IB</text>
<text x="508.8" y="493.9" font-size="6.9" text-anchor="middle" fill="#222" >Py</text>
<text x="514.2" y="470.4" font-size="6.9" text-anchor="middle" fill="#222" >Lac</text>
<text x="531.5" y="470.2" font-size="6.9" text-anchor="middle" fill="#222" >β-Glc</text>
<text x="530.7" y="487.7" font-size="6.9" text-anchor="middle" fill="#222" >Cit</text>
<text x="538.1" y="496.8" font-size="6.9" text-anchor="middle" fill="#222" >Eth</text>
<text x="487.9" y="498.5" font-size="6.9" text-anchor="middle" fill="#222" >Asc</text>
<text x="527.8" y="503.2" font-size="6.9" text-anchor="middle" fill="#222" >All</text>
<text x="534.1" y="522.7" font-size="6.9" text-anchor="middle" fill="#222" >Cr</text>
<text x="547.6" y="506.3" font-size="6.9" text-anchor="middle" fill="#222" >Lys</text>
<text x="581.2" y="480.1" font-size="6.9" text-anchor="middle" fill="#222" >Lipid</text>
<text x="584.7" y="487.7" font-size="6.9" text-anchor="middle" fill="#222" >Act</text>
<text x="557.1" y="492.2" font-size="6.9" text-anchor="middle" fill="#222" >LDL</text>
<text x="553.6" y="499.1" font-size="6.9" text-anchor="middle" fill="#222" >Met</text>
<text x="594.1" y="496.8" font-size="6.9" text-anchor="middle" fill="#222" >m-I</text>
<text x="592.4" y="502.8" font-size="6.9" text-anchor="middle" fill="#222" >GPC</text>
<text x="568.6" y="522.2" font-size="6.9" text-anchor="middle" fill="#222" >Ile</text>
<text x="578.3" y="518.4" font-size="6.9" text-anchor="middle" fill="#222" >Leu</text>
<text x="595.9" y="519.7" font-size="6.9" text-anchor="middle" fill="#222" >PC</text>
<text x="595.5" y="458.4" font-size="6.9" text-anchor="middle" fill="#222" >Mol</text>
<text x="625.5" y="453.2" font-size="6.9" text-anchor="middle" fill="#222" >VLDL</text>
<text x="614" y="485.3" font-size="6.9" text-anchor="middle" fill="#222" >TMA</text>
<text x="616.5" y="397.7" font-size="6.9" text-anchor="middle" fill="#222" >DMA</text>
<text x="639.2" y="420.8" font-size="6.9" text-anchor="middle" fill="#222" >Sar</text>
<rect x="440.4" y="389.5" width="220.4" height="134.5" fill="none" stroke="#333" stroke-width="1"/>
<line x1="440.4" y1="520.1" x2="442.6" y2="520.1" stroke="#333" stroke-width="0.9" />
<line x1="658.6" y1="520.1" x2="660.8" y2="520.1" stroke="#333" stroke-width="0.9" />
<text x="437.8" y="523.3" font-size="9.3" text-anchor="end" fill="#1e1e1e" >0</text>
<line x1="440.4" y1="476.65" x2="442.6" y2="476.65" stroke="#333" stroke-width="0.9" />
<line x1="658.6" y1="476.65" x2="660.8" y2="476.65" stroke="#333" stroke-width="0.9" />
<text x="437.8" y="479.85" font-size="9.3" text-anchor="end" fill="#1e1e1e" >5</text>
<line x1="440.4" y1="433.2" x2="442.6" y2="433.2" stroke="#333" stroke-width="0.9" />
<line x1="658.6" y1="433.2" x2="660.8" y2="433.2" stroke="#333" stroke-width="0.9" />
<text x="437.8" y="436.4" font-size="9.3" text-anchor="end" fill="#1e1e1e" >10</text>
<line x1="440.4" y1="389.75" x2="442.6" y2="389.75" stroke="#333" stroke-width="0.9" />
<line x1="658.6" y1="389.75" x2="660.8" y2="389.75" stroke="#333" stroke-width="0.9" />
<text x="437.8" y="392.95" font-size="9.3" text-anchor="end" fill="#1e1e1e" >15</text>
<line x1="440.4" y1="524" x2="440.4" y2="521.8" stroke="#333" stroke-width="0.9" />
<line x1="440.4" y1="389.5" x2="440.4" y2="391.7" stroke="#333" stroke-width="0.9" />
<text x="440.4" y="534.3" font-size="9.3" text-anchor="middle" fill="#1e1e1e" >−1.5</text>
<line x1="477.13" y1="524" x2="477.13" y2="521.8" stroke="#333" stroke-width="0.9" />
<line x1="477.13" y1="389.5" x2="477.13" y2="391.7" stroke="#333" stroke-width="0.9" />
<text x="477.13" y="534.3" font-size="9.3" text-anchor="middle" fill="#1e1e1e" >−1</text>
<line x1="513.87" y1="524" x2="513.87" y2="521.8" stroke="#333" stroke-width="0.9" />
<line x1="513.87" y1="389.5" x2="513.87" y2="391.7" stroke="#333" stroke-width="0.9" />
<text x="513.87" y="534.3" font-size="9.3" text-anchor="middle" fill="#1e1e1e" >−0.5</text>
<line x1="550.6" y1="524" x2="550.6" y2="521.8" stroke="#333" stroke-width="0.9" />
<line x1="550.6" y1="389.5" x2="550.6" y2="391.7" stroke="#333" stroke-width="0.9" />
<text x="550.6" y="534.3" font-size="9.3" text-anchor="middle" fill="#1e1e1e" >0</text>
<line x1="587.34" y1="524" x2="587.34" y2="521.8" stroke="#333" stroke-width="0.9" />
<line x1="587.34" y1="389.5" x2="587.34" y2="391.7" stroke="#333" stroke-width="0.9" />
<text x="587.34" y="534.3" font-size="9.3" text-anchor="middle" fill="#1e1e1e" >0.5</text>
<line x1="624.07" y1="524" x2="624.07" y2="521.8" stroke="#333" stroke-width="0.9" />
<line x1="624.07" y1="389.5" x2="624.07" y2="391.7" stroke="#333" stroke-width="0.9" />
<text x="624.07" y="534.3" font-size="9.3" text-anchor="middle" fill="#1e1e1e" >1</text>
<line x1="660.81" y1="524" x2="660.81" y2="521.8" stroke="#333" stroke-width="0.9" />
<line x1="660.81" y1="389.5" x2="660.81" y2="391.7" stroke="#333" stroke-width="0.9" />
<text x="660.81" y="534.3" font-size="9.3" text-anchor="middle" fill="#1e1e1e" >1.5</text>
<rect x="668.6" y="389.4" width="9.2" height="135.6" fill="url(#jet)" stroke="#333" stroke-width="0.8"/>
<text x="679.6" y="394" font-size="9.4" text-anchor="start" fill="#1e1e1e" >1</text>
<line x1="668.6" y1="416.52" x2="670" y2="416.52" stroke="#444" stroke-width="0.6" />
<line x1="676.4" y1="416.52" x2="677.8" y2="416.52" stroke="#444" stroke-width="0.6" />
<text x="679.6" y="420.3" font-size="9.4" text-anchor="start" fill="#1e1e1e" >0.8</text>
<line x1="668.6" y1="443.64" x2="670" y2="443.64" stroke="#444" stroke-width="0.6" />
<line x1="676.4" y1="443.64" x2="677.8" y2="443.64" stroke="#444" stroke-width="0.6" />
<text x="679.6" y="447.1" font-size="9.4" text-anchor="start" fill="#1e1e1e" >0.6</text>
<line x1="668.6" y1="470.76" x2="670" y2="470.76" stroke="#444" stroke-width="0.6" />
<line x1="676.4" y1="470.76" x2="677.8" y2="470.76" stroke="#444" stroke-width="0.6" />
<text x="679.6" y="473.8" font-size="9.4" text-anchor="start" fill="#1e1e1e" >0.4</text>
<line x1="668.6" y1="497.88" x2="670" y2="497.88" stroke="#444" stroke-width="0.6" />
<line x1="676.4" y1="497.88" x2="677.8" y2="497.88" stroke="#444" stroke-width="0.6" />
<text x="679.6" y="500.6" font-size="9.4" text-anchor="start" fill="#1e1e1e" >0.2</text>
<text x="679.6" y="527.3" font-size="9.4" text-anchor="start" fill="#1e1e1e" >0</text>
<text x="0" y="0" font-size="9.6" text-anchor="middle" fill="#1e1e1e" transform="translate(422.5,455.5) rotate(-90)">−Log<tspan font-size="6" dy="2">10</tspan><tspan dy="-2">(p-value): CUS-L vs. C</tspan></text>
<text x="552" y="544.6" font-size="9.6" text-anchor="middle" fill="#1e1e1e">Log<tspan font-size="6" dy="2">2</tspan><tspan dy="-2">(fold change): CUS-L </tspan><tspan font-style="italic">vs.</tspan> C</text>
<line x1="440.5" y1="706.5" x2="660.8" y2="706.5" stroke="#0a0a0a" stroke-width="1.05" stroke-dasharray="3,1.7"/>
<circle cx="450.6" cy="654.4" r="3.15" fill="#fa0000" />
<circle cx="485.3" cy="691" r="3.6" fill="#ff3800" />
<circle cx="504.8" cy="686" r="3.3" fill="#ff3800" />
<circle cx="517.4" cy="684.8" r="3.6" fill="#fa0000" />
<circle cx="512.6" cy="695.2" r="3.4" fill="#ffb300" />
<circle cx="520.2" cy="700.1" r="3.7" fill="#ff2e00" />
<circle cx="524.5" cy="701.3" r="3.15" fill="#b30000" />
<circle cx="531" cy="698.4" r="3.15" fill="#94ff6b" />
<circle cx="501.8" cy="705.6" r="3.15" fill="#94ff6b" />
<circle cx="521.6" cy="714.2" r="3.15" fill="#94ff6b" />
<circle cx="525.2" cy="711.9" r="3.15" fill="#2effd1" />
<circle cx="529.5" cy="711.3" r="3.15" fill="#ffb300" />
<circle cx="532.4" cy="703.7" r="3.15" fill="#ff2400" />
<circle cx="540.3" cy="710.9" r="3.15" fill="#ff6100" />
<circle cx="538.9" cy="708" r="3.15" fill="#ff2400" />
<circle cx="536" cy="710.2" r="3.6" fill="#fff000" />
<circle cx="537.4" cy="714.5" r="3.15" fill="#ff6100" />
<circle cx="543.2" cy="710.9" r="3.15" fill="#ffb300" />
<circle cx="541.7" cy="714.5" r="3.15" fill="#fff000" />
<circle cx="544.6" cy="715.9" r="3.15" fill="#fff000" />
<circle cx="547.5" cy="718.1" r="3.15" fill="#fffa00" />
<circle cx="548.9" cy="721.7" r="3.15" fill="#fa0000" />
<circle cx="553.9" cy="719.5" r="3.15" fill="#ff7500" />
<circle cx="555.4" cy="714.5" r="3.15" fill="#fa0000" />
<circle cx="556.1" cy="716.6" r="2.75" fill="#94ff6b" />
<circle cx="561.8" cy="713.8" r="3.15" fill="#fff000" />
<circle cx="561.8" cy="705.9" r="3.15" fill="#ff7500" />
<circle cx="564.7" cy="700.8" r="3.15" fill="#ffb300" />
<circle cx="569.7" cy="703.7" r="3.15" fill="#fff000" />
<circle cx="566.1" cy="706.6" r="3.15" fill="#a80000" />
<circle cx="571.9" cy="709.5" r="3.15" fill="#ff6100" />
<circle cx="575.9" cy="715.6" r="3.15" fill="#ff3800" />
<circle cx="576.9" cy="701.3" r="3.15" fill="#00b2ff" />
<circle cx="570.7" cy="693.2" r="3.15" fill="#ff2400" />
<circle cx="575.1" cy="690.1" r="3.15" fill="#ff6100" />
<circle cx="596.9" cy="696.2" r="3.15" fill="#e50000" />
<circle cx="600.5" cy="696.9" r="3.15" fill="#e50000" />
<circle cx="633.9" cy="608.2" r="3.15" fill="#9e0000" />
<circle cx="640.2" cy="655.5" r="3.15" fill="#9e0000" />
<line x1="536.2" y1="677.4" x2="536.2" y2="701.8" stroke="#111" stroke-width="0.9" />
<line x1="506.3" y1="695.3" x2="508.9" y2="695.3" stroke="#111" stroke-width="0.9" />
<line x1="524.4" y1="694.2" x2="524.4" y2="697.5" stroke="#111" stroke-width="0.9" />
<line x1="513.3" y1="707.6" x2="517.4" y2="704" stroke="#111" stroke-width="0.9" />
<line x1="553" y1="687.3" x2="562.4" y2="696.6" stroke="#111" stroke-width="0.9" />
<line x1="554.5" y1="695.2" x2="561.7" y2="701.7" stroke="#111" stroke-width="0.9" />
<line x1="555.2" y1="701.7" x2="558.5" y2="704.5" stroke="#111" stroke-width="0.9" />
<line x1="596.6" y1="677.2" x2="596.6" y2="690.9" stroke="#111" stroke-width="0.9" />
<line x1="608.4" y1="690.2" x2="604.8" y2="694.5" stroke="#111" stroke-width="0.9" />
<text x="450.6" y="649.7" font-size="6.9" text-anchor="middle" fill="#222" >HDL</text>
<text x="487.9" y="684.2" font-size="6.9" text-anchor="middle" fill="#222" >3-HB</text>
<text x="504.1" y="681.2" font-size="6.9" text-anchor="middle" fill="#222" >IB</text>
<text x="520" y="676.7" font-size="6.9" text-anchor="middle" fill="#222" >β-Glc</text>
<text x="537.9" y="674.1" font-size="6.9" text-anchor="middle" fill="#222" >Leu</text>
<text x="498.8" y="697.8" font-size="6.9" text-anchor="middle" fill="#222" >Suc</text>
<text x="525.4" y="693.9" font-size="6.9" text-anchor="middle" fill="#222" >All</text>
<text x="511.6" y="717.2" font-size="6.9" text-anchor="middle" fill="#222" >Py</text>
<text x="549.9" y="684.3" font-size="6.9" text-anchor="middle" fill="#222" >LDL</text>
<text x="548.7" y="694.1" font-size="6.9" text-anchor="middle" fill="#222" >m-I</text>
<text x="549.5" y="703.2" font-size="6.9" text-anchor="middle" fill="#222" >Ser</text>
<text x="574.6" y="685.2" font-size="6.9" text-anchor="middle" fill="#222" >TMAO</text>
<text x="599" y="675.1" font-size="6.9" text-anchor="middle" fill="#222" >VLDL</text>
<text x="612" y="687.9" font-size="6.9" text-anchor="middle" fill="#222" >Mol</text>
<text x="634.9" y="603.5" font-size="6.9" text-anchor="middle" fill="#222" >DMA</text>
<text x="640.7" y="649.2" font-size="6.9" text-anchor="middle" fill="#222" >Sar</text>
<rect x="440.5" y="589.7" width="220.3" height="135.1" fill="none" stroke="#333" stroke-width="1"/>
<line x1="440.5" y1="721.2" x2="442.7" y2="721.2" stroke="#333" stroke-width="0.9" />
<line x1="658.6" y1="721.2" x2="660.8" y2="721.2" stroke="#333" stroke-width="0.9" />
<text x="437.9" y="724.4" font-size="9.3" text-anchor="end" fill="#1e1e1e" >0</text>
<line x1="440.5" y1="699.4" x2="442.7" y2="699.4" stroke="#333" stroke-width="0.9" />
<line x1="658.6" y1="699.4" x2="660.8" y2="699.4" stroke="#333" stroke-width="0.9" />
<text x="437.9" y="702.6" font-size="9.3" text-anchor="end" fill="#1e1e1e" >2</text>
<line x1="440.5" y1="677.6" x2="442.7" y2="677.6" stroke="#333" stroke-width="0.9" />
<line x1="658.6" y1="677.6" x2="660.8" y2="677.6" stroke="#333" stroke-width="0.9" />
<text x="437.9" y="680.8" font-size="9.3" text-anchor="end" fill="#1e1e1e" >4</text>
<line x1="440.5" y1="655.8" x2="442.7" y2="655.8" stroke="#333" stroke-width="0.9" />
<line x1="658.6" y1="655.8" x2="660.8" y2="655.8" stroke="#333" stroke-width="0.9" />
<text x="437.9" y="659" font-size="9.3" text-anchor="end" fill="#1e1e1e" >6</text>
<line x1="440.5" y1="634" x2="442.7" y2="634" stroke="#333" stroke-width="0.9" />
<line x1="658.6" y1="634" x2="660.8" y2="634" stroke="#333" stroke-width="0.9" />
<text x="437.9" y="637.2" font-size="9.3" text-anchor="end" fill="#1e1e1e" >8</text>
<line x1="440.5" y1="612.2" x2="442.7" y2="612.2" stroke="#333" stroke-width="0.9" />
<line x1="658.6" y1="612.2" x2="660.8" y2="612.2" stroke="#333" stroke-width="0.9" />
<text x="437.9" y="615.4" font-size="9.3" text-anchor="end" fill="#1e1e1e" >10</text>
<line x1="440.5" y1="590.4" x2="442.7" y2="590.4" stroke="#333" stroke-width="0.9" />
<line x1="658.6" y1="590.4" x2="660.8" y2="590.4" stroke="#333" stroke-width="0.9" />
<text x="437.9" y="593.6" font-size="9.3" text-anchor="end" fill="#1e1e1e" >12</text>
<line x1="440.5" y1="724.8" x2="440.5" y2="722.6" stroke="#333" stroke-width="0.9" />
<line x1="440.5" y1="589.7" x2="440.5" y2="591.9" stroke="#333" stroke-width="0.9" />
<text x="440.5" y="735.1" font-size="9.3" text-anchor="middle" fill="#1e1e1e" >−1.5</text>
<line x1="477.22" y1="724.8" x2="477.22" y2="722.6" stroke="#333" stroke-width="0.9" />
<line x1="477.22" y1="589.7" x2="477.22" y2="591.9" stroke="#333" stroke-width="0.9" />
<text x="477.22" y="735.1" font-size="9.3" text-anchor="middle" fill="#1e1e1e" >−1</text>
<line x1="513.93" y1="724.8" x2="513.93" y2="722.6" stroke="#333" stroke-width="0.9" />
<line x1="513.93" y1="589.7" x2="513.93" y2="591.9" stroke="#333" stroke-width="0.9" />
<text x="513.93" y="735.1" font-size="9.3" text-anchor="middle" fill="#1e1e1e" >−0.5</text>
<line x1="550.65" y1="724.8" x2="550.65" y2="722.6" stroke="#333" stroke-width="0.9" />
<line x1="550.65" y1="589.7" x2="550.65" y2="591.9" stroke="#333" stroke-width="0.9" />
<text x="550.65" y="735.1" font-size="9.3" text-anchor="middle" fill="#1e1e1e" >0</text>
<line x1="587.37" y1="724.8" x2="587.37" y2="722.6" stroke="#333" stroke-width="0.9" />
<line x1="587.37" y1="589.7" x2="587.37" y2="591.9" stroke="#333" stroke-width="0.9" />
<text x="587.37" y="735.1" font-size="9.3" text-anchor="middle" fill="#1e1e1e" >0.5</text>
<line x1="624.08" y1="724.8" x2="624.08" y2="722.6" stroke="#333" stroke-width="0.9" />
<line x1="624.08" y1="589.7" x2="624.08" y2="591.9" stroke="#333" stroke-width="0.9" />
<text x="624.08" y="735.1" font-size="9.3" text-anchor="middle" fill="#1e1e1e" >1</text>
<line x1="660.79" y1="724.8" x2="660.79" y2="722.6" stroke="#333" stroke-width="0.9" />
<line x1="660.79" y1="589.7" x2="660.79" y2="591.9" stroke="#333" stroke-width="0.9" />
<text x="660.79" y="735.1" font-size="9.3" text-anchor="middle" fill="#1e1e1e" >1.5</text>
<rect x="668.6" y="590" width="9.5" height="135" fill="url(#jet)" stroke="#333" stroke-width="0.8"/>
<text x="680" y="595.3" font-size="9.4" text-anchor="start" fill="#1e1e1e" >1</text>
<line x1="668.6" y1="617" x2="670" y2="617" stroke="#444" stroke-width="0.6" />
<line x1="676.7" y1="617" x2="678.1" y2="617" stroke="#444" stroke-width="0.6" />
<text x="680" y="622.2" font-size="9.4" text-anchor="start" fill="#1e1e1e" >0.8</text>
<line x1="668.6" y1="644" x2="670" y2="644" stroke="#444" stroke-width="0.6" />
<line x1="676.7" y1="644" x2="678.1" y2="644" stroke="#444" stroke-width="0.6" />
<text x="680" y="648.5" font-size="9.4" text-anchor="start" fill="#1e1e1e" >0.6</text>
<line x1="668.6" y1="671" x2="670" y2="671" stroke="#444" stroke-width="0.6" />
<line x1="676.7" y1="671" x2="678.1" y2="671" stroke="#444" stroke-width="0.6" />
<text x="680" y="675.3" font-size="9.4" text-anchor="start" fill="#1e1e1e" >0.4</text>
<line x1="668.6" y1="698" x2="670" y2="698" stroke="#444" stroke-width="0.6" />
<line x1="676.7" y1="698" x2="678.1" y2="698" stroke="#444" stroke-width="0.6" />
<text x="680" y="702" font-size="9.4" text-anchor="start" fill="#1e1e1e" >0.2</text>
<text x="680" y="728.3" font-size="9.4" text-anchor="start" fill="#1e1e1e" >0</text>
<text x="0" y="0" font-size="9.6" text-anchor="middle" fill="#1e1e1e" transform="translate(422.5,657.6) rotate(-90)">−Log<tspan font-size="6" dy="2">10</tspan><tspan dy="-2">(p-value): G vs. C</tspan></text>
<text x="551.7" y="746.5" font-size="9.6" text-anchor="middle" fill="#1e1e1e">Log<tspan font-size="6" dy="2">2</tspan><tspan dy="-2">(fold change): G </tspan><tspan font-style="italic">vs.</tspan> C</text>
</svg></body></html>
